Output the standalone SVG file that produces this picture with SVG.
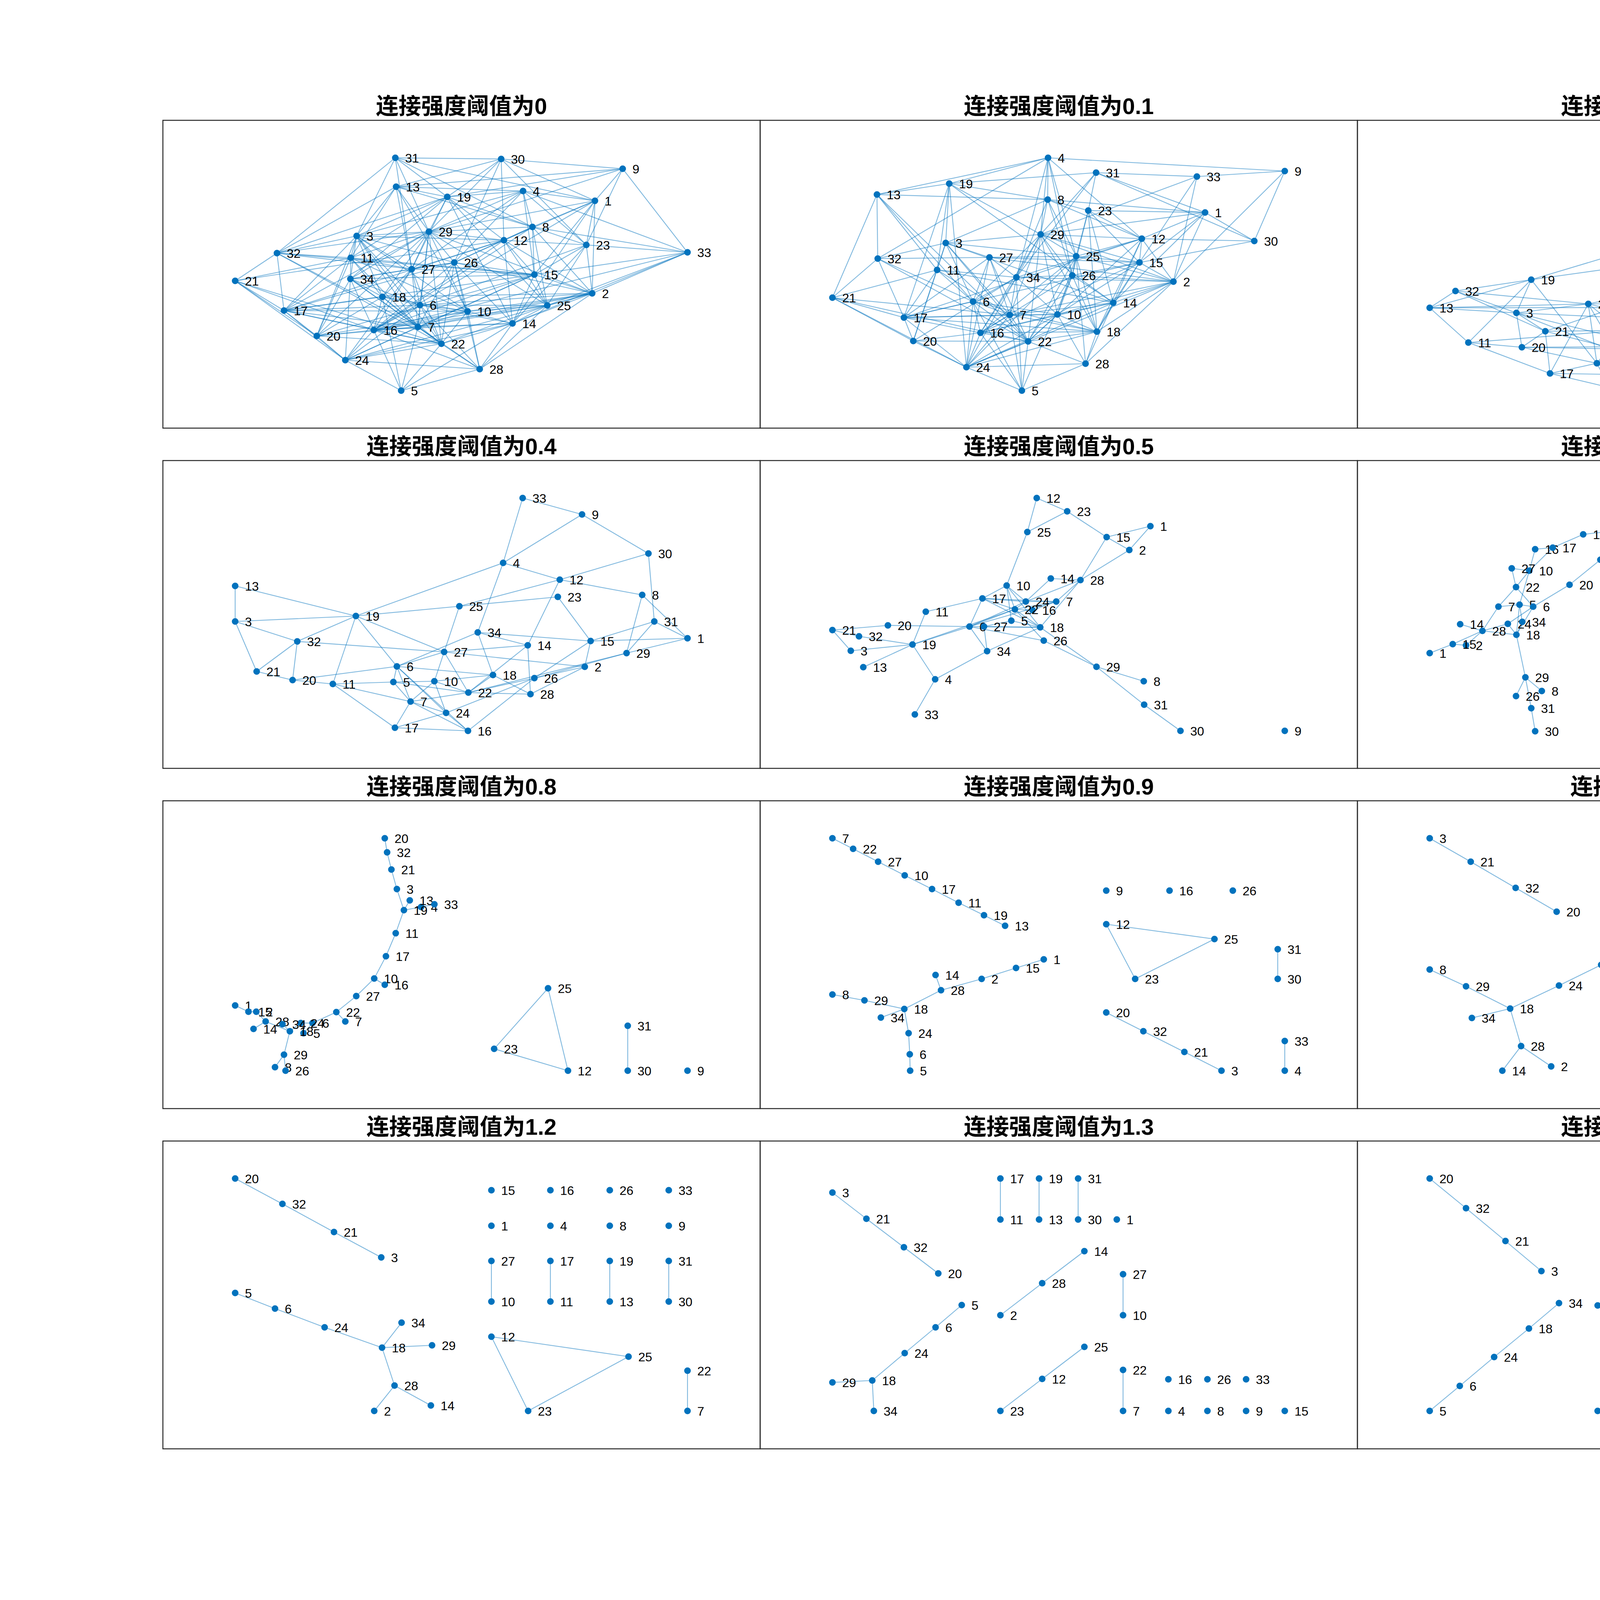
<svg xmlns="http://www.w3.org/2000/svg" width="6950" height="4125" viewBox="0 0 6950 4125">
<style>
.fr{fill:none;stroke:#262626;stroke-width:2.5}
.tt{font-family:"Liberation Sans","Noto Sans CJK SC",sans-serif;font-size:58px;font-weight:bold;text-anchor:middle;fill:#000}
.ed path{fill:none;stroke:#0072BD;stroke-opacity:0.5;stroke-width:2.2}
.nd circle{fill:#0072BD}
.nd text{font-family:"Liberation Sans",Arial,sans-serif;font-size:32px;fill:#000}
</style>
<rect width="6950" height="4125" fill="#fff"/>
<g id="titles">
<text class="tt" x="1181.5" y="292">连接强度阈值为0</text>
<text class="tt" x="2710.5" y="292">连接强度阈值为0.1</text>
<text class="tt" x="4239.5" y="292">连接强度阈值为0.2</text>
<text class="tt" x="5768.5" y="292">连接强度阈值为0.3</text>
<text class="tt" x="1181.5" y="1163">连接强度阈值为0.4</text>
<text class="tt" x="2710.5" y="1163">连接强度阈值为0.5</text>
<text class="tt" x="4239.5" y="1163">连接强度阈值为0.6</text>
<text class="tt" x="5768.5" y="1163">连接强度阈值为0.7</text>
<text class="tt" x="1181.5" y="2034">连接强度阈值为0.8</text>
<text class="tt" x="2710.5" y="2034">连接强度阈值为0.9</text>
<text class="tt" x="4239.5" y="2034">连接强度阈值为1</text>
<text class="tt" x="5768.5" y="2034">连接强度阈值为1.1</text>
<text class="tt" x="1181.5" y="2905">连接强度阈值为1.2</text>
<text class="tt" x="2710.5" y="2905">连接强度阈值为1.3</text>
<text class="tt" x="4239.5" y="2905">连接强度阈值为1.4</text>
<text class="tt" x="5768.5" y="2905">连接强度阈值为1.5</text>
</g>
<g id="frames">
<rect class="fr" x="417" y="308" width="1529" height="788"/><rect class="fr" x="1946" y="308" width="1529" height="788"/><rect class="fr" x="3475" y="308" width="1529" height="788"/><rect class="fr" x="5004" y="308" width="1529" height="788"/>
<rect class="fr" x="417" y="1179" width="1529" height="788"/><rect class="fr" x="1946" y="1179" width="1529" height="788"/><rect class="fr" x="3475" y="1179" width="1529" height="788"/><rect class="fr" x="5004" y="1179" width="1529" height="788"/>
<rect class="fr" x="417" y="2050" width="1529" height="788"/><rect class="fr" x="1946" y="2050" width="1529" height="788"/><rect class="fr" x="3475" y="2050" width="1529" height="788"/><rect class="fr" x="5004" y="2050" width="1529" height="788"/>
<rect class="fr" x="417" y="2921" width="1529" height="788"/><rect class="fr" x="1946" y="2921" width="1529" height="788"/><rect class="fr" x="3475" y="2921" width="1529" height="788"/><rect class="fr" x="5004" y="2921" width="1529" height="788"/>
</g>

<g id="panel-0" transform="translate(417 360)">
<g class="ed" id="p0-edges">
<path d="M595 44L866 47"/><path d="M595 44L292 288"/><path d="M595 44L496 244"/><path d="M595 44L728 144"/><path d="M595 44L681 233"/><path d="M595 44L1106 154"/><path d="M595 44L946 221"/><path d="M595 44L637 329"/>
<path d="M866 47L1177 72"/><path d="M866 47L597 118"/><path d="M866 47L728 144"/><path d="M866 47L681 233"/><path d="M866 47L873 255"/><path d="M866 47L1106 154"/><path d="M866 47L746 312"/><path d="M866 47L1084 267"/>
<path d="M1177 72L597 118"/><path d="M1177 72L728 144"/><path d="M1177 72L681 233"/><path d="M1177 72L1106 154"/><path d="M1177 72L1084 267"/><path d="M1177 72L1343 286"/>
<path d="M597 118L728 144"/><path d="M597 118L922 129"/><path d="M597 118L496 244"/><path d="M597 118L292 288"/><path d="M597 118L681 233"/><path d="M597 118L637 329"/><path d="M597 118L946 221"/><path d="M597 118L481 300"/><path d="M597 118L780 437"/>
<path d="M728 144L922 129"/><path d="M728 144L681 233"/><path d="M728 144L873 255"/><path d="M728 144L946 221"/><path d="M728 144L496 244"/><path d="M728 144L292 288"/><path d="M728 144L481 300"/><path d="M728 144L480 354"/><path d="M728 144L895 468"/><path d="M728 144L637 329"/><path d="M728 144L984 422"/>
<path d="M922 129L946 221"/><path d="M922 129L1106 154"/><path d="M922 129L1084 267"/><path d="M922 129L681 233"/><path d="M922 129L496 244"/><path d="M922 129L1343 286"/><path d="M922 129L746 312"/><path d="M922 129L951 343"/><path d="M922 129L637 329"/>
<path d="M1106 154L681 233"/><path d="M1106 154L946 221"/><path d="M1106 154L1084 267"/><path d="M1106 154L1099 391"/><path d="M1106 154L540 485"/><path d="M1106 154L895 468"/><path d="M1106 154L951 343"/><path d="M1106 154L873 255"/>
<path d="M946 221L681 233"/><path d="M946 221L1084 267"/><path d="M946 221L873 255"/><path d="M946 221L951 343"/><path d="M946 221L984 422"/><path d="M946 221L1343 286"/><path d="M946 221L1099 391"/><path d="M946 221L746 312"/><path d="M946 221L540 485"/>
<path d="M681 233L496 244"/><path d="M681 233L873 255"/><path d="M681 233L481 300"/><path d="M681 233L637 329"/><path d="M681 233L480 354"/><path d="M681 233L562 400"/><path d="M681 233L658 421"/><path d="M681 233L653 477"/><path d="M681 233L780 437"/><path d="M681 233L746 312"/><path d="M681 233L713 520"/><path d="M681 233L1099 391"/><path d="M681 233L984 422"/><path d="M681 233L310 435"/><path d="M681 233L394 500"/>
<path d="M496 244L292 288"/><path d="M496 244L481 300"/><path d="M496 244L480 354"/><path d="M496 244L637 329"/><path d="M496 244L746 312"/><path d="M496 244L562 400"/><path d="M496 244L658 421"/><path d="M496 244L653 477"/><path d="M496 244L780 437"/><path d="M496 244L310 435"/><path d="M496 244L394 500"/><path d="M496 244L873 255"/><path d="M496 244L713 520"/>
<path d="M873 255L1084 267"/><path d="M873 255L637 329"/><path d="M873 255L746 312"/><path d="M873 255L951 343"/><path d="M873 255L984 422"/><path d="M873 255L895 468"/><path d="M873 255L1099 391"/><path d="M873 255L310 435"/><path d="M873 255L540 485"/><path d="M873 255L185 359"/>
<path d="M1084 267L1343 286"/><path d="M1084 267L1099 391"/><path d="M1084 267L951 343"/><path d="M1084 267L984 422"/><path d="M1084 267L895 468"/><path d="M1084 267L658 421"/>
<path d="M1343 286L1099 391"/><path d="M1343 286L984 422"/><path d="M1343 286L951 343"/><path d="M1343 286L895 468"/><path d="M1343 286L540 485"/>
<path d="M292 288L185 359"/><path d="M292 288L310 435"/><path d="M292 288L481 300"/><path d="M292 288L681 233"/><path d="M292 288L637 329"/><path d="M292 288L951 343"/><path d="M292 288L653 477"/><path d="M292 288L713 520"/>
<path d="M481 300L185 359"/><path d="M481 300L637 329"/><path d="M481 300L951 343"/><path d="M481 300L480 354"/><path d="M481 300L562 400"/><path d="M481 300L310 435"/><path d="M481 300L394 500"/><path d="M481 300L780 437"/><path d="M481 300L653 477"/>
<path d="M637 329L746 312"/><path d="M637 329L480 354"/><path d="M637 329L951 343"/><path d="M637 329L540 485"/><path d="M637 329L467 562"/><path d="M637 329L653 477"/><path d="M637 329L658 421"/><path d="M637 329L562 400"/><path d="M637 329L713 520"/>
<path d="M746 312L951 343"/><path d="M746 312L780 437"/><path d="M746 312L895 468"/><path d="M746 312L1099 391"/><path d="M746 312L540 485"/><path d="M746 312L310 435"/><path d="M746 312L480 354"/><path d="M746 312L713 520"/><path d="M746 312L653 477"/><path d="M746 312L811 585"/>
<path d="M185 359L310 435"/><path d="M185 359L394 500"/><path d="M185 359L467 562"/><path d="M185 359L540 485"/><path d="M185 359L713 520"/>
<path d="M480 354L951 343"/><path d="M480 354L562 400"/><path d="M480 354L540 485"/><path d="M480 354L467 562"/><path d="M480 354L653 477"/><path d="M480 354L713 520"/><path d="M480 354L394 500"/><path d="M480 354L658 421"/>
<path d="M951 343L1099 391"/><path d="M951 343L984 422"/><path d="M951 343L895 468"/><path d="M951 343L310 435"/><path d="M951 343L540 485"/><path d="M951 343L394 500"/><path d="M951 343L467 562"/><path d="M951 343L653 477"/>
<path d="M1099 391L984 422"/><path d="M1099 391L895 468"/><path d="M1099 391L780 437"/><path d="M1099 391L658 421"/><path d="M1099 391L562 400"/><path d="M1099 391L540 485"/><path d="M1099 391L653 477"/><path d="M1099 391L467 562"/><path d="M1099 391L811 585"/>
<path d="M562 400L310 435"/><path d="M562 400L658 421"/><path d="M562 400L653 477"/><path d="M562 400L540 485"/><path d="M562 400L713 520"/><path d="M562 400L394 500"/><path d="M562 400L780 437"/><path d="M562 400L610 640"/>
<path d="M658 421L310 435"/><path d="M658 421L780 437"/><path d="M658 421L653 477"/><path d="M658 421L540 485"/><path d="M658 421L713 520"/><path d="M658 421L895 468"/><path d="M658 421L984 422"/><path d="M658 421L467 562"/><path d="M658 421L811 585"/>
<path d="M310 435L394 500"/><path d="M310 435L540 485"/><path d="M310 435L467 562"/><path d="M310 435L780 437"/><path d="M310 435L653 477"/><path d="M310 435L713 520"/>
<path d="M780 437L984 422"/><path d="M780 437L895 468"/><path d="M780 437L540 485"/><path d="M780 437L653 477"/><path d="M780 437L713 520"/><path d="M780 437L394 500"/><path d="M780 437L811 585"/>
<path d="M984 422L895 468"/><path d="M984 422L540 485"/><path d="M984 422L653 477"/><path d="M984 422L713 520"/><path d="M984 422L811 585"/>
<path d="M895 468L540 485"/><path d="M895 468L653 477"/><path d="M895 468L713 520"/><path d="M895 468L467 562"/><path d="M895 468L811 585"/><path d="M895 468L610 640"/>
<path d="M540 485L394 500"/><path d="M540 485L653 477"/><path d="M540 485L713 520"/><path d="M540 485L467 562"/><path d="M540 485L610 640"/><path d="M540 485L811 585"/>
<path d="M653 477L394 500"/><path d="M653 477L713 520"/><path d="M653 477L467 562"/><path d="M653 477L610 640"/><path d="M653 477L811 585"/>
<path d="M394 500L467 562"/><path d="M394 500L713 520"/><path d="M713 520L467 562"/><path d="M713 520L811 585"/><path d="M713 520L610 640"/><path d="M467 562L811 585"/><path d="M467 562L610 640"/><path d="M811 585L610 640"/>
</g>
<g class="nd">
<g id="p0-n1" transform="translate(1106 154)"><circle r="8.5"/><text x="25" y="12">1</text></g>
<g id="p0-n2" transform="translate(1099 391)"><circle r="8.5"/><text x="25" y="12">2</text></g>
<g id="p0-n3" transform="translate(496 244)"><circle r="8.5"/><text x="25" y="12">3</text></g>
<g id="p0-n4" transform="translate(922 129)"><circle r="8.5"/><text x="25" y="12">4</text></g>
<g id="p0-n5" transform="translate(610 640)"><circle r="8.5"/><text x="25" y="12">5</text></g>
<g id="p0-n6" transform="translate(658 421)"><circle r="8.5"/><text x="25" y="12">6</text></g>
<g id="p0-n7" transform="translate(653 477)"><circle r="8.5"/><text x="25" y="12">7</text></g>
<g id="p0-n8" transform="translate(946 221)"><circle r="8.5"/><text x="25" y="12">8</text></g>
<g id="p0-n9" transform="translate(1177 72)"><circle r="8.5"/><text x="25" y="12">9</text></g>
<g id="p0-n10" transform="translate(780 437)"><circle r="8.5"/><text x="25" y="12">10</text></g>
<g id="p0-n11" transform="translate(481 300)"><circle r="8.5"/><text x="25" y="12">11</text></g>
<g id="p0-n12" transform="translate(873 255)"><circle r="8.5"/><text x="25" y="12">12</text></g>
<g id="p0-n13" transform="translate(597 118)"><circle r="8.5"/><text x="25" y="12">13</text></g>
<g id="p0-n14" transform="translate(895 468)"><circle r="8.5"/><text x="25" y="12">14</text></g>
<g id="p0-n15" transform="translate(951 343)"><circle r="8.5"/><text x="25" y="12">15</text></g>
<g id="p0-n16" transform="translate(540 485)"><circle r="8.5"/><text x="25" y="12">16</text></g>
<g id="p0-n17" transform="translate(310 435)"><circle r="8.5"/><text x="25" y="12">17</text></g>
<g id="p0-n18" transform="translate(562 400)"><circle r="8.5"/><text x="25" y="12">18</text></g>
<g id="p0-n19" transform="translate(728 144)"><circle r="8.5"/><text x="25" y="12">19</text></g>
<g id="p0-n20" transform="translate(394 500)"><circle r="8.5"/><text x="25" y="12">20</text></g>
<g id="p0-n21" transform="translate(185 359)"><circle r="8.5"/><text x="25" y="12">21</text></g>
<g id="p0-n22" transform="translate(713 520)"><circle r="8.5"/><text x="25" y="12">22</text></g>
<g id="p0-n23" transform="translate(1084 267)"><circle r="8.5"/><text x="25" y="12">23</text></g>
<g id="p0-n24" transform="translate(467 562)"><circle r="8.5"/><text x="25" y="12">24</text></g>
<g id="p0-n25" transform="translate(984 422)"><circle r="8.5"/><text x="25" y="12">25</text></g>
<g id="p0-n26" transform="translate(746 312)"><circle r="8.5"/><text x="25" y="12">26</text></g>
<g id="p0-n27" transform="translate(637 329)"><circle r="8.5"/><text x="25" y="12">27</text></g>
<g id="p0-n28" transform="translate(811 585)"><circle r="8.5"/><text x="25" y="12">28</text></g>
<g id="p0-n29" transform="translate(681 233)"><circle r="8.5"/><text x="25" y="12">29</text></g>
<g id="p0-n30" transform="translate(866 47)"><circle r="8.5"/><text x="25" y="12">30</text></g>
<g id="p0-n31" transform="translate(595 44)"><circle r="8.5"/><text x="25" y="12">31</text></g>
<g id="p0-n32" transform="translate(292 288)"><circle r="8.5"/><text x="25" y="12">32</text></g>
<g id="p0-n33" transform="translate(1343 286)"><circle r="8.5"/><text x="25" y="12">33</text></g>
<g id="p0-n34" transform="translate(480 354)"><circle r="8.5"/><text x="25" y="12">34</text></g>
</g>
</g>

<g id="panel-0.1" transform="translate(1946 360)">
<g class="ed" id="p01-edges">
<path d="M737 44L484 110"/><path d="M737 44L299 138"/><path d="M737 44L1343 78"/><path d="M737 44L736 151"/><path d="M737 44L718 240"/><path d="M737 44L656 350"/><path d="M737 44L809 296"/><path d="M737 44L799 345"/><path d="M737 44L977 251"/><path d="M737 44L301 302"/>
<path d="M860 82L484 110"/><path d="M860 82L840 179"/><path d="M860 82L718 240"/><path d="M860 82L1139 184"/><path d="M860 82L1265 257"/><path d="M860 82L656 350"/>
<path d="M1118 92L1343 78"/><path d="M1118 92L1058 361"/><path d="M1118 92L971 312"/><path d="M1118 92L718 240"/><path d="M1118 92L860 82"/><path d="M1343 78L1265 257"/><path d="M1343 78L1058 361"/>
<path d="M484 110L299 138"/><path d="M484 110L736 151"/><path d="M484 110L718 240"/><path d="M484 110L475 262"/><path d="M484 110L453 331"/><path d="M484 110L368 453"/><path d="M484 110L528 580"/><path d="M484 110L904 415"/>
<path d="M299 138L301 302"/><path d="M299 138L185 402"/><path d="M299 138L736 151"/><path d="M299 138L545 412"/><path d="M299 138L686 514"/><path d="M299 138L453 331"/>
<path d="M736 151L840 179"/><path d="M736 151L1139 184"/><path d="M736 151L718 240"/><path d="M736 151L977 251"/><path d="M736 151L656 350"/><path d="M736 151L809 296"/><path d="M736 151L799 345"/><path d="M736 151L475 262"/>
<path d="M840 179L1139 184"/><path d="M840 179L977 251"/><path d="M840 179L971 312"/><path d="M840 179L809 296"/><path d="M840 179L799 345"/><path d="M840 179L862 489"/><path d="M840 179L904 415"/>
<path d="M1139 184L1265 257"/><path d="M1139 184L977 251"/><path d="M1139 184L971 312"/><path d="M1139 184L1058 361"/><path d="M1139 184L718 240"/><path d="M1139 184L904 415"/>
<path d="M718 240L475 262"/><path d="M718 240L977 251"/><path d="M718 240L971 312"/><path d="M718 240L1058 361"/><path d="M718 240L809 296"/><path d="M718 240L799 345"/><path d="M718 240L656 350"/><path d="M718 240L639 446"/><path d="M718 240L545 412"/><path d="M718 240L761 445"/><path d="M718 240L686 514"/><path d="M718 240L862 489"/><path d="M718 240L564 492"/>
<path d="M977 251L1265 257"/><path d="M977 251L971 312"/><path d="M977 251L809 296"/><path d="M977 251L904 415"/><path d="M977 251L1058 361"/><path d="M977 251L656 350"/><path d="M977 251L686 514"/><path d="M977 251L368 453"/><path d="M977 251L862 489"/>
<path d="M475 262L587 299"/><path d="M475 262L809 296"/><path d="M475 262L301 302"/><path d="M475 262L453 331"/><path d="M475 262L545 412"/><path d="M475 262L639 446"/><path d="M475 262L686 514"/><path d="M475 262L904 415"/><path d="M475 262L392 513"/>
<path d="M301 302L587 299"/><path d="M301 302L185 402"/><path d="M301 302L368 453"/><path d="M301 302L545 412"/><path d="M301 302L686 514"/>
<path d="M587 299L809 296"/><path d="M587 299L971 312"/><path d="M587 299L656 350"/><path d="M587 299L545 412"/><path d="M587 299L639 446"/><path d="M587 299L368 453"/><path d="M587 299L686 514"/><path d="M587 299L528 580"/><path d="M587 299L1058 361"/>
<path d="M809 296L971 312"/><path d="M809 296L799 345"/><path d="M809 296L761 445"/><path d="M809 296L1058 361"/><path d="M809 296L686 514"/><path d="M809 296L862 489"/><path d="M809 296L833 571"/><path d="M809 296L528 580"/><path d="M809 296L564 492"/>
<path d="M971 312L1058 361"/><path d="M971 312L1265 257"/><path d="M971 312L799 345"/><path d="M971 312L904 415"/><path d="M971 312L761 445"/><path d="M971 312L862 489"/><path d="M971 312L368 453"/><path d="M971 312L564 492"/>
<path d="M453 331L656 350"/><path d="M453 331L368 453"/><path d="M453 331L392 513"/><path d="M453 331L545 412"/><path d="M453 331L904 415"/><path d="M453 331L185 402"/><path d="M453 331L639 446"/>
<path d="M656 350L799 345"/><path d="M656 350L545 412"/><path d="M656 350L639 446"/><path d="M656 350L761 445"/><path d="M656 350L1058 361"/><path d="M656 350L564 492"/><path d="M656 350L528 580"/><path d="M656 350L670 640"/><path d="M656 350L392 513"/>
<path d="M799 345L1058 361"/><path d="M799 345L904 415"/><path d="M799 345L761 445"/><path d="M799 345L862 489"/><path d="M799 345L686 514"/><path d="M799 345L564 492"/><path d="M799 345L670 640"/>
<path d="M1058 361L904 415"/><path d="M1058 361L862 489"/><path d="M1058 361L833 571"/><path d="M1058 361L761 445"/><path d="M1058 361L528 580"/><path d="M1058 361L639 446"/>
<path d="M185 402L368 453"/><path d="M185 402L392 513"/><path d="M185 402L528 580"/><path d="M185 402L639 446"/><path d="M185 402L686 514"/>
<path d="M545 412L639 446"/><path d="M545 412L564 492"/><path d="M545 412L368 453"/><path d="M545 412L686 514"/><path d="M545 412L528 580"/><path d="M545 412L670 640"/><path d="M545 412L761 445"/><path d="M545 412L862 489"/>
<path d="M904 415L761 445"/><path d="M904 415L639 446"/><path d="M904 415L862 489"/><path d="M904 415L833 571"/><path d="M904 415L564 492"/><path d="M904 415L528 580"/>
<path d="M368 453L639 446"/><path d="M368 453L564 492"/><path d="M368 453L392 513"/><path d="M368 453L528 580"/><path d="M368 453L761 445"/><path d="M368 453L862 489"/>
<path d="M639 446L761 445"/><path d="M639 446L564 492"/><path d="M639 446L686 514"/><path d="M639 446L670 640"/><path d="M639 446L862 489"/><path d="M639 446L528 580"/>
<path d="M761 445L564 492"/><path d="M761 445L686 514"/><path d="M761 445L862 489"/><path d="M761 445L833 571"/><path d="M761 445L528 580"/>
<path d="M564 492L392 513"/><path d="M564 492L686 514"/><path d="M564 492L670 640"/><path d="M564 492L528 580"/><path d="M564 492L862 489"/>
<path d="M862 489L833 571"/><path d="M862 489L686 514"/><path d="M862 489L528 580"/><path d="M392 513L528 580"/><path d="M392 513L686 514"/><path d="M686 514L528 580"/><path d="M686 514L670 640"/><path d="M686 514L833 571"/><path d="M528 580L833 571"/><path d="M528 580L670 640"/><path d="M833 571L670 640"/>
</g>
<g class="nd">
<g id="p01-n1" transform="translate(1139 184)"><circle r="8.5"/><text x="25" y="12">1</text></g>
<g id="p01-n2" transform="translate(1058 361)"><circle r="8.5"/><text x="25" y="12">2</text></g>
<g id="p01-n3" transform="translate(475 262)"><circle r="8.5"/><text x="25" y="12">3</text></g>
<g id="p01-n4" transform="translate(737 44)"><circle r="8.5"/><text x="25" y="12">4</text></g>
<g id="p01-n5" transform="translate(670 640)"><circle r="8.5"/><text x="25" y="12">5</text></g>
<g id="p01-n6" transform="translate(545 412)"><circle r="8.5"/><text x="25" y="12">6</text></g>
<g id="p01-n7" transform="translate(639 446)"><circle r="8.5"/><text x="25" y="12">7</text></g>
<g id="p01-n8" transform="translate(736 151)"><circle r="8.5"/><text x="25" y="12">8</text></g>
<g id="p01-n9" transform="translate(1343 78)"><circle r="8.5"/><text x="25" y="12">9</text></g>
<g id="p01-n10" transform="translate(761 445)"><circle r="8.5"/><text x="25" y="12">10</text></g>
<g id="p01-n11" transform="translate(453 331)"><circle r="8.5"/><text x="25" y="12">11</text></g>
<g id="p01-n12" transform="translate(977 251)"><circle r="8.5"/><text x="25" y="12">12</text></g>
<g id="p01-n13" transform="translate(299 138)"><circle r="8.5"/><text x="25" y="12">13</text></g>
<g id="p01-n14" transform="translate(904 415)"><circle r="8.5"/><text x="25" y="12">14</text></g>
<g id="p01-n15" transform="translate(971 312)"><circle r="8.5"/><text x="25" y="12">15</text></g>
<g id="p01-n16" transform="translate(564 492)"><circle r="8.5"/><text x="25" y="12">16</text></g>
<g id="p01-n17" transform="translate(368 453)"><circle r="8.5"/><text x="25" y="12">17</text></g>
<g id="p01-n18" transform="translate(862 489)"><circle r="8.5"/><text x="25" y="12">18</text></g>
<g id="p01-n19" transform="translate(484 110)"><circle r="8.5"/><text x="25" y="12">19</text></g>
<g id="p01-n20" transform="translate(392 513)"><circle r="8.5"/><text x="25" y="12">20</text></g>
<g id="p01-n21" transform="translate(185 402)"><circle r="8.5"/><text x="25" y="12">21</text></g>
<g id="p01-n22" transform="translate(686 514)"><circle r="8.5"/><text x="25" y="12">22</text></g>
<g id="p01-n23" transform="translate(840 179)"><circle r="8.5"/><text x="25" y="12">23</text></g>
<g id="p01-n24" transform="translate(528 580)"><circle r="8.5"/><text x="25" y="12">24</text></g>
<g id="p01-n25" transform="translate(809 296)"><circle r="8.5"/><text x="25" y="12">25</text></g>
<g id="p01-n26" transform="translate(799 345)"><circle r="8.5"/><text x="25" y="12">26</text></g>
<g id="p01-n27" transform="translate(587 299)"><circle r="8.5"/><text x="25" y="12">27</text></g>
<g id="p01-n28" transform="translate(833 571)"><circle r="8.5"/><text x="25" y="12">28</text></g>
<g id="p01-n29" transform="translate(718 240)"><circle r="8.5"/><text x="25" y="12">29</text></g>
<g id="p01-n30" transform="translate(1265 257)"><circle r="8.5"/><text x="25" y="12">30</text></g>
<g id="p01-n31" transform="translate(860 82)"><circle r="8.5"/><text x="25" y="12">31</text></g>
<g id="p01-n32" transform="translate(301 302)"><circle r="8.5"/><text x="25" y="12">32</text></g>
<g id="p01-n33" transform="translate(1118 92)"><circle r="8.5"/><text x="25" y="12">33</text></g>
<g id="p01-n34" transform="translate(656 350)"><circle r="8.5"/><text x="25" y="12">34</text></g>
</g>
</g>

<g id="panel-0.2" transform="translate(3475 360)">
<g class="ed" id="p02-edges">
<path d="M1119 44L869 229"/><path d="M1119 44L1087 158"/><path d="M1119 44L1300 146"/><path d="M1087 158L869 229"/><path d="M1087 158L1009 338"/><path d="M1300 146L1215 280"/><path d="M1300 146L1009 338"/>
<path d="M1215 280L1343 386"/><path d="M1215 280L1009 338"/><path d="M1215 280L851 363"/><path d="M1215 280L1024 414"/>
<path d="M869 229L445 356"/><path d="M869 229L851 363"/><path d="M869 229L1144 364"/><path d="M869 229L757 457"/>
<path d="M739 315L445 356"/><path d="M739 315L1009 338"/><path d="M739 315L677 486"/><path d="M739 315L922 427"/>
<path d="M1009 338L851 363"/><path d="M1009 338L1024 414"/><path d="M1009 338L1036 470"/><path d="M1009 338L922 427"/><path d="M1009 338L856 468"/><path d="M1009 338L658 533"/>
<path d="M445 356L251 385"/><path d="M445 356L185 428"/><path d="M445 356L407 441"/><path d="M445 356L284 517"/><path d="M445 356L613 570"/>
<path d="M851 363L1144 364"/><path d="M851 363L591 418"/><path d="M851 363L757 457"/><path d="M851 363L856 468"/><path d="M851 363L754 527"/><path d="M851 363L481 488"/>
<path d="M1144 364L1343 386"/><path d="M1144 364L1024 414"/><path d="M1144 364L1136 520"/><path d="M1144 364L922 427"/><path d="M1343 386L1024 414"/><path d="M1343 386L1136 520"/>
<path d="M251 385L185 428"/><path d="M251 385L591 418"/><path d="M251 385L407 441"/><path d="M251 385L481 488"/>
<path d="M185 428L591 418"/><path d="M185 428L407 441"/><path d="M185 428L284 517"/><path d="M185 428L922 427"/>
<path d="M591 418L757 457"/><path d="M591 418L677 486"/><path d="M591 418L493 596"/><path d="M591 418L658 533"/><path d="M591 418L613 570"/><path d="M591 418L407 441"/><path d="M591 418L1024 414"/>
<path d="M922 427L1024 414"/><path d="M922 427L856 468"/><path d="M922 427L757 457"/><path d="M922 427L871 554"/><path d="M922 427L754 527"/><path d="M922 427L658 533"/>
<path d="M1024 414L1036 470"/><path d="M1024 414L871 554"/><path d="M1024 414L914 595"/><path d="M1024 414L677 486"/>
<path d="M407 441L481 488"/><path d="M407 441L421 529"/><path d="M407 441L757 457"/><path d="M407 441L754 527"/><path d="M407 441L816 601"/>
<path d="M757 457L677 486"/><path d="M757 457L658 533"/><path d="M757 457L856 468"/><path d="M757 457L713 640"/><path d="M757 457L816 601"/><path d="M757 457L645 632"/>
<path d="M856 468L754 527"/><path d="M856 468L871 554"/><path d="M856 468L816 601"/><path d="M856 468L1136 520"/>
<path d="M481 488L677 486"/><path d="M481 488L421 529"/><path d="M481 488L493 596"/><path d="M481 488L658 533"/>
<path d="M677 486L658 533"/><path d="M677 486L754 527"/><path d="M677 486L613 570"/><path d="M677 486L713 640"/><path d="M677 486L1036 470"/>
<path d="M284 517L421 529"/><path d="M284 517L677 486"/><path d="M284 517L493 596"/>
<path d="M421 529L658 533"/><path d="M421 529L613 570"/><path d="M421 529L754 527"/>
<path d="M658 533L754 527"/><path d="M658 533L613 570"/><path d="M658 533L713 640"/><path d="M658 533L645 632"/><path d="M658 533L871 554"/><path d="M658 533L816 601"/><path d="M658 533L914 595"/>
<path d="M754 527L871 554"/><path d="M754 527L816 601"/><path d="M754 527L713 640"/><path d="M754 527L1136 520"/><path d="M754 527L914 595"/><path d="M754 527L613 570"/>
<path d="M1136 520L871 554"/><path d="M1136 520L914 595"/><path d="M1136 520L816 601"/><path d="M1136 520L1036 470"/>
<path d="M871 554L816 601"/><path d="M871 554L914 595"/><path d="M871 554L613 570"/><path d="M871 554L713 640"/>
<path d="M613 570L493 596"/><path d="M613 570L645 632"/><path d="M613 570L816 601"/><path d="M613 570L914 595"/><path d="M613 570L713 640"/>
<path d="M493 596L645 632"/><path d="M493 596L816 601"/><path d="M816 601L914 595"/><path d="M816 601L713 640"/><path d="M816 601L645 632"/><path d="M914 595L713 640"/><path d="M645 632L713 640"/><path d="M1036 470L914 595"/>
</g>
<g class="nd">
<g id="p02-n1" transform="translate(1343 386)"><circle r="8.5"/><text x="25" y="12">1</text></g>
<g id="p02-n2" transform="translate(1024 414)"><circle r="8.5"/><text x="25" y="12">2</text></g>
<g id="p02-n3" transform="translate(407 441)"><circle r="8.5"/><text x="25" y="12">3</text></g>
<g id="p02-n4" transform="translate(869 229)"><circle r="8.5"/><text x="25" y="12">4</text></g>
<g id="p02-n5" transform="translate(645 632)"><circle r="8.5"/><text x="25" y="12">5</text></g>
<g id="p02-n6" transform="translate(613 570)"><circle r="8.5"/><text x="25" y="12">6</text></g>
<g id="p02-n7" transform="translate(871 554)"><circle r="8.5"/><text x="25" y="12">7</text></g>
<g id="p02-n8" transform="translate(1144 364)"><circle r="8.5"/><text x="25" y="12">8</text></g>
<g id="p02-n9" transform="translate(1119 44)"><circle r="8.5"/><text x="25" y="12">9</text></g>
<g id="p02-n10" transform="translate(677 486)"><circle r="8.5"/><text x="25" y="12">10</text></g>
<g id="p02-n11" transform="translate(284 517)"><circle r="8.5"/><text x="25" y="12">11</text></g>
<g id="p02-n12" transform="translate(1009 338)"><circle r="8.5"/><text x="25" y="12">12</text></g>
<g id="p02-n13" transform="translate(185 428)"><circle r="8.5"/><text x="25" y="12">13</text></g>
<g id="p02-n14" transform="translate(856 468)"><circle r="8.5"/><text x="25" y="12">14</text></g>
<g id="p02-n15" transform="translate(1136 520)"><circle r="8.5"/><text x="25" y="12">15</text></g>
<g id="p02-n16" transform="translate(816 601)"><circle r="8.5"/><text x="25" y="12">16</text></g>
<g id="p02-n17" transform="translate(493 596)"><circle r="8.5"/><text x="25" y="12">17</text></g>
<g id="p02-n18" transform="translate(754 527)"><circle r="8.5"/><text x="25" y="12">18</text></g>
<g id="p02-n19" transform="translate(445 356)"><circle r="8.5"/><text x="25" y="12">19</text></g>
<g id="p02-n20" transform="translate(421 529)"><circle r="8.5"/><text x="25" y="12">20</text></g>
<g id="p02-n21" transform="translate(481 488)"><circle r="8.5"/><text x="25" y="12">21</text></g>
<g id="p02-n22" transform="translate(658 533)"><circle r="8.5"/><text x="25" y="12">22</text></g>
<g id="p02-n23" transform="translate(1036 470)"><circle r="8.5"/><text x="25" y="12">23</text></g>
<g id="p02-n24" transform="translate(713 640)"><circle r="8.5"/><text x="25" y="12">24</text></g>
<g id="p02-n25" transform="translate(739 315)"><circle r="8.5"/><text x="25" y="12">25</text></g>
<g id="p02-n26" transform="translate(922 427)"><circle r="8.5"/><text x="25" y="12">26</text></g>
<g id="p02-n27" transform="translate(591 418)"><circle r="8.5"/><text x="25" y="12">27</text></g>
<g id="p02-n28" transform="translate(914 595)"><circle r="8.5"/><text x="25" y="12">28</text></g>
<g id="p02-n29" transform="translate(851 363)"><circle r="8.5"/><text x="25" y="12">29</text></g>
<g id="p02-n30" transform="translate(1300 146)"><circle r="8.5"/><text x="25" y="12">30</text></g>
<g id="p02-n31" transform="translate(1215 280)"><circle r="8.5"/><text x="25" y="12">31</text></g>
<g id="p02-n32" transform="translate(251 385)"><circle r="8.5"/><text x="25" y="12">32</text></g>
<g id="p02-n33" transform="translate(1087 158)"><circle r="8.5"/><text x="25" y="12">33</text></g>
<g id="p02-n34" transform="translate(757 457)"><circle r="8.5"/><text x="25" y="12">34</text></g>
</g>
</g>

<g id="panel-0.3" transform="translate(5004 360)">
<g class="ed" id="p03-edges">
<path d="M847 44L796 224"/><path d="M847 44L1032 84"/><path d="M1032 84L796 224"/><path d="M1032 84L1258 178"/><path d="M1258 178L1134 291"/><path d="M1258 178L1171 343"/>
<path d="M796 224L486 371"/><path d="M796 224L691 414"/><path d="M796 224L880 332"/><path d="M796 224L1025 331"/>
<path d="M1134 291L880 332"/><path d="M1134 291L1171 343"/><path d="M1134 291L861 487"/>
<path d="M880 332L1025 331"/><path d="M880 332L1171 343"/><path d="M880 332L944 391"/><path d="M880 332L829 449"/><path d="M880 332L691 414"/><path d="M880 332L634 466"/>
<path d="M1025 331L1171 343"/><path d="M1025 331L1216 407"/><path d="M1025 331L1092 460"/><path d="M1025 331L829 449"/>
<path d="M1171 343L1216 407"/><path d="M1171 343L1343 404"/><path d="M1171 343L829 449"/><path d="M1171 343L927 517"/><path d="M944 391L1171 343"/>
<path d="M486 371L245 332"/><path d="M486 371L322 420"/><path d="M486 371L185 449"/><path d="M486 371L529 447"/><path d="M486 371L471 496"/><path d="M486 371L381 545"/><path d="M486 371L1216 407"/>
<path d="M1216 407L1343 404"/><path d="M1216 407L1092 460"/><path d="M1216 407L927 517"/><path d="M1343 404L1092 460"/><path d="M1092 460L927 517"/>
<path d="M322 420L691 414"/><path d="M322 420L529 447"/><path d="M322 420L185 449"/><path d="M322 420L228 576"/><path d="M245 332L322 420"/><path d="M245 332L529 447"/>
<path d="M185 449L829 449"/><path d="M185 449L228 576"/><path d="M185 449L278 521"/>
<path d="M691 414L529 447"/><path d="M691 414L634 466"/><path d="M691 414L1092 460"/><path d="M691 414L861 487"/><path d="M691 414L597 539"/><path d="M691 414L512 556"/>
<path d="M529 447L634 466"/><path d="M529 447L597 539"/><path d="M529 447L622 599"/><path d="M529 447L278 521"/>
<path d="M829 449L1092 460"/><path d="M829 449L698 527"/><path d="M829 449L739 608"/><path d="M829 449L597 539"/>
<path d="M634 466L861 487"/><path d="M634 466L927 517"/><path d="M634 466L698 527"/><path d="M634 466L652 571"/><path d="M634 466L471 496"/><path d="M634 466L866 571"/>
<path d="M861 487L927 517"/><path d="M861 487L866 571"/><path d="M861 487L652 571"/><path d="M1092 460L622 599"/><path d="M1092 460L652 571"/>
<path d="M471 496L278 521"/><path d="M471 496L512 556"/><path d="M471 496L597 539"/><path d="M471 496L652 571"/><path d="M471 496L622 599"/>
<path d="M927 517L698 527"/><path d="M927 517L597 539"/><path d="M927 517L866 571"/><path d="M927 517L739 608"/>
<path d="M278 521L381 545"/><path d="M278 521L597 539"/><path d="M278 521L698 527"/><path d="M698 527L597 539"/><path d="M698 527L739 608"/>
<path d="M381 545L478 640"/><path d="M381 545L597 539"/>
<path d="M597 539L512 556"/><path d="M597 539L652 571"/><path d="M597 539L622 599"/><path d="M597 539L739 608"/>
<path d="M512 556L652 571"/><path d="M512 556L622 599"/><path d="M512 556L739 608"/><path d="M652 571L622 599"/><path d="M652 571L739 608"/><path d="M652 571L866 571"/>
<path d="M228 576L478 640"/><path d="M228 576L739 608"/><path d="M622 599L739 608"/><path d="M622 599L478 640"/><path d="M478 640L739 608"/><path d="M866 571L739 608"/>
</g>
<g class="nd">
<g id="p03-n1" transform="translate(1216 407)"><circle r="8.5"/><text x="25" y="12">1</text></g>
<g id="p03-n2" transform="translate(927 517)"><circle r="8.5"/><text x="25" y="12">2</text></g>
<g id="p03-n3" transform="translate(322 420)"><circle r="8.5"/><text x="25" y="12">3</text></g>
<g id="p03-n4" transform="translate(796 224)"><circle r="8.5"/><text x="25" y="12">4</text></g>
<g id="p03-n5" transform="translate(512 556)"><circle r="8.5"/><text x="25" y="12">5</text></g>
<g id="p03-n6" transform="translate(471 496)"><circle r="8.5"/><text x="25" y="12">6</text></g>
<g id="p03-n7" transform="translate(622 599)"><circle r="8.5"/><text x="25" y="12">7</text></g>
<g id="p03-n8" transform="translate(1025 331)"><circle r="8.5"/><text x="25" y="12">8</text></g>
<g id="p03-n9" transform="translate(1032 84)"><circle r="8.5"/><text x="25" y="12">9</text></g>
<g id="p03-n10" transform="translate(698 527)"><circle r="8.5"/><text x="25" y="12">10</text></g>
<g id="p03-n11" transform="translate(381 545)"><circle r="8.5"/><text x="25" y="12">11</text></g>
<g id="p03-n12" transform="translate(1171 343)"><circle r="8.5"/><text x="25" y="12">12</text></g>
<g id="p03-n13" transform="translate(245 332)"><circle r="8.5"/><text x="25" y="12">13</text></g>
<g id="p03-n14" transform="translate(861 487)"><circle r="8.5"/><text x="25" y="12">14</text></g>
<g id="p03-n15" transform="translate(1092 460)"><circle r="8.5"/><text x="25" y="12">15</text></g>
<g id="p03-n16" transform="translate(739 608)"><circle r="8.5"/><text x="25" y="12">16</text></g>
<g id="p03-n17" transform="translate(478 640)"><circle r="8.5"/><text x="25" y="12">17</text></g>
<g id="p03-n18" transform="translate(634 466)"><circle r="8.5"/><text x="25" y="12">18</text></g>
<g id="p03-n19" transform="translate(486 371)"><circle r="8.5"/><text x="25" y="12">19</text></g>
<g id="p03-n20" transform="translate(278 521)"><circle r="8.5"/><text x="25" y="12">20</text></g>
<g id="p03-n21" transform="translate(228 576)"><circle r="8.5"/><text x="25" y="12">21</text></g>
<g id="p03-n22" transform="translate(597 539)"><circle r="8.5"/><text x="25" y="12">22</text></g>
<g id="p03-n23" transform="translate(1343 404)"><circle r="8.5"/><text x="25" y="12">23</text></g>
<g id="p03-n24" transform="translate(652 571)"><circle r="8.5"/><text x="25" y="12">24</text></g>
<g id="p03-n25" transform="translate(944 391)"><circle r="8.5"/><text x="25" y="12">25</text></g>
<g id="p03-n26" transform="translate(829 449)"><circle r="8.5"/><text x="25" y="12">26</text></g>
<g id="p03-n27" transform="translate(529 447)"><circle r="8.5"/><text x="25" y="12">27</text></g>
<g id="p03-n28" transform="translate(866 571)"><circle r="8.5"/><text x="25" y="12">28</text></g>
<g id="p03-n29" transform="translate(880 332)"><circle r="8.5"/><text x="25" y="12">29</text></g>
<g id="p03-n30" transform="translate(1258 178)"><circle r="8.5"/><text x="25" y="12">30</text></g>
<g id="p03-n31" transform="translate(1134 291)"><circle r="8.5"/><text x="25" y="12">31</text></g>
<g id="p03-n32" transform="translate(185 449)"><circle r="8.5"/><text x="25" y="12">32</text></g>
<g id="p03-n33" transform="translate(847 44)"><circle r="8.5"/><text x="25" y="12">33</text></g>
<g id="p03-n34" transform="translate(691 414)"><circle r="8.5"/><text x="25" y="12">34</text></g>
</g>
</g>

<g id="panel-0.4" transform="translate(417 360)">
<g class="ed" id="p04-edges">
<path d="M921 915L871 1081"/><path d="M921 915L1073 957"/><path d="M1073 957L871 1081"/><path d="M1073 957L1243 1057"/><path d="M1243 1057L1016 1124"/><path d="M1243 1057L1258 1231"/>
<path d="M871 1081L1016 1124"/><path d="M871 1081L494 1217"/><path d="M871 1081L806 1259"/><path d="M1016 1124L1227 1163"/><path d="M1016 1124L759 1192"/><path d="M1016 1124L934 1292"/>
<path d="M494 1217L759 1192"/><path d="M759 1192L1011 1168"/><path d="M1011 1168L1095 1281"/><path d="M1227 1163L1343 1274"/><path d="M1227 1163L1187 1312"/>
<path d="M1258 1231L1343 1274"/><path d="M1258 1231L1187 1312"/><path d="M1258 1231L1095 1281"/>
<path d="M185 1140L185 1231"/><path d="M185 1140L494 1217"/><path d="M185 1231L494 1217"/><path d="M185 1231L344 1282"/><path d="M185 1231L240 1359"/>
<path d="M494 1217L344 1282"/><path d="M494 1217L435 1391"/><path d="M494 1217L599 1346"/><path d="M494 1217L720 1309"/><path d="M759 1192L720 1309"/>
<path d="M344 1282L240 1359"/><path d="M344 1282L332 1381"/><path d="M344 1282L720 1309"/>
<path d="M806 1259L599 1346"/><path d="M806 1259L934 1292"/><path d="M806 1259L1095 1281"/><path d="M806 1259L845 1368"/>
<path d="M934 1292L720 1309"/><path d="M934 1292L782 1413"/><path d="M934 1292L941 1417"/>
<path d="M1095 1281L1343 1274"/><path d="M1095 1281L1080 1347"/><path d="M1095 1281L951 1376"/>
<path d="M1187 1312L1343 1274"/><path d="M1187 1312L782 1413"/><path d="M1187 1312L951 1376"/>
<path d="M720 1309L1080 1347"/><path d="M720 1309L695 1384"/><path d="M720 1309L782 1413"/><path d="M720 1309L599 1346"/>
<path d="M1080 1347L951 1376"/><path d="M1080 1347L941 1417"/>
<path d="M599 1346L590 1386"/><path d="M599 1346L845 1368"/><path d="M599 1346L634 1436"/><path d="M599 1346L725 1465"/><path d="M599 1346L781 1511"/>
<path d="M332 1381L240 1359"/><path d="M332 1381L435 1391"/><path d="M332 1381L599 1346"/>
<path d="M435 1391L590 1386"/><path d="M435 1391L634 1436"/><path d="M435 1391L594 1503"/>
<path d="M590 1386L695 1384"/><path d="M590 1386L634 1436"/><path d="M590 1386L782 1413"/>
<path d="M695 1384L782 1413"/><path d="M695 1384L634 1436"/><path d="M695 1384L725 1465"/><path d="M695 1384L845 1368"/>
<path d="M845 1368L782 1413"/><path d="M845 1368L941 1417"/>
<path d="M951 1376L782 1413"/><path d="M951 1376L725 1465"/><path d="M951 1376L781 1511"/>
<path d="M782 1413L941 1417"/><path d="M782 1413L634 1436"/>
<path d="M634 1436L725 1465"/><path d="M634 1436L594 1503"/><path d="M725 1465L594 1503"/><path d="M725 1465L781 1511"/><path d="M594 1503L781 1511"/><path d="M634 1436L781 1511"/>
</g>
<g class="nd">
<g id="p04-n1" transform="translate(1343 1274)"><circle r="8.5"/><text x="25" y="12">1</text></g>
<g id="p04-n2" transform="translate(1080 1347)"><circle r="8.5"/><text x="25" y="12">2</text></g>
<g id="p04-n3" transform="translate(185 1231)"><circle r="8.5"/><text x="25" y="12">3</text></g>
<g id="p04-n4" transform="translate(871 1081)"><circle r="8.5"/><text x="25" y="12">4</text></g>
<g id="p04-n5" transform="translate(590 1386)"><circle r="8.5"/><text x="25" y="12">5</text></g>
<g id="p04-n6" transform="translate(599 1346)"><circle r="8.5"/><text x="25" y="12">6</text></g>
<g id="p04-n7" transform="translate(634 1436)"><circle r="8.5"/><text x="25" y="12">7</text></g>
<g id="p04-n8" transform="translate(1227 1163)"><circle r="8.5"/><text x="25" y="12">8</text></g>
<g id="p04-n9" transform="translate(1073 957)"><circle r="8.5"/><text x="25" y="12">9</text></g>
<g id="p04-n10" transform="translate(695 1384)"><circle r="8.5"/><text x="25" y="12">10</text></g>
<g id="p04-n11" transform="translate(435 1391)"><circle r="8.5"/><text x="25" y="12">11</text></g>
<g id="p04-n12" transform="translate(1016 1124)"><circle r="8.5"/><text x="25" y="12">12</text></g>
<g id="p04-n13" transform="translate(185 1140)"><circle r="8.5"/><text x="25" y="12">13</text></g>
<g id="p04-n14" transform="translate(934 1292)"><circle r="8.5"/><text x="25" y="12">14</text></g>
<g id="p04-n15" transform="translate(1095 1281)"><circle r="8.5"/><text x="25" y="12">15</text></g>
<g id="p04-n16" transform="translate(781 1511)"><circle r="8.5"/><text x="25" y="12">16</text></g>
<g id="p04-n17" transform="translate(594 1503)"><circle r="8.5"/><text x="25" y="12">17</text></g>
<g id="p04-n18" transform="translate(845 1368)"><circle r="8.5"/><text x="25" y="12">18</text></g>
<g id="p04-n19" transform="translate(494 1217)"><circle r="8.5"/><text x="25" y="12">19</text></g>
<g id="p04-n20" transform="translate(332 1381)"><circle r="8.5"/><text x="25" y="12">20</text></g>
<g id="p04-n21" transform="translate(240 1359)"><circle r="8.5"/><text x="25" y="12">21</text></g>
<g id="p04-n22" transform="translate(782 1413)"><circle r="8.5"/><text x="25" y="12">22</text></g>
<g id="p04-n23" transform="translate(1011 1168)"><circle r="8.5"/><text x="25" y="12">23</text></g>
<g id="p04-n24" transform="translate(725 1465)"><circle r="8.5"/><text x="25" y="12">24</text></g>
<g id="p04-n25" transform="translate(759 1192)"><circle r="8.5"/><text x="25" y="12">25</text></g>
<g id="p04-n26" transform="translate(951 1376)"><circle r="8.5"/><text x="25" y="12">26</text></g>
<g id="p04-n27" transform="translate(720 1309)"><circle r="8.5"/><text x="25" y="12">27</text></g>
<g id="p04-n28" transform="translate(941 1417)"><circle r="8.5"/><text x="25" y="12">28</text></g>
<g id="p04-n29" transform="translate(1187 1312)"><circle r="8.5"/><text x="25" y="12">29</text></g>
<g id="p04-n30" transform="translate(1243 1057)"><circle r="8.5"/><text x="25" y="12">30</text></g>
<g id="p04-n31" transform="translate(1258 1231)"><circle r="8.5"/><text x="25" y="12">31</text></g>
<g id="p04-n32" transform="translate(344 1282)"><circle r="8.5"/><text x="25" y="12">32</text></g>
<g id="p04-n33" transform="translate(921 915)"><circle r="8.5"/><text x="25" y="12">33</text></g>
<g id="p04-n34" transform="translate(806 1259)"><circle r="8.5"/><text x="25" y="12">34</text></g>
</g>
</g>

<g id="panel-0.5" transform="translate(1946 360)">
<g class="ed" id="p05-edges">
<path d="M708 915L786 949"/><path d="M708 915L684 1002"/><path d="M684 1002L786 949"/><path d="M786 949L887 1015"/><path d="M887 1015L999 987"/><path d="M887 1015L945 1048"/><path d="M999 987L945 1048"/>
<path d="M887 1015L820 1125"/><path d="M945 1048L820 1125"/><path d="M684 1002L631 1139"/><path d="M744 1121L820 1125"/><path d="M744 1121L680 1180"/><path d="M680 1180L820 1125"/><path d="M820 1125L758 1180"/><path d="M820 1125L717 1246"/>
<path d="M631 1139L569 1172"/><path d="M631 1139L680 1180"/><path d="M631 1139L652 1200"/><path d="M631 1139L643 1229"/><path d="M631 1139L717 1246"/>
<path d="M569 1172L424 1206"/><path d="M569 1172L680 1180"/><path d="M569 1172L758 1180"/><path d="M569 1172L652 1200"/><path d="M569 1172L717 1246"/><path d="M569 1172L536 1244"/>
<path d="M536 1244L327 1241"/><path d="M536 1244L390 1290"/><path d="M536 1244L581 1307"/><path d="M536 1244L680 1180"/><path d="M536 1244L652 1200"/><path d="M536 1244L717 1246"/><path d="M536 1244L758 1180"/><path d="M536 1244L726 1280"/>
<path d="M390 1290L652 1200"/><path d="M573 1244L643 1229"/><path d="M573 1244L581 1307"/><path d="M573 1244L717 1246"/>
<path d="M652 1200L697 1202"/><path d="M652 1200L717 1246"/><path d="M652 1200L726 1280"/><path d="M652 1200L758 1180"/><path d="M652 1200L680 1180"/><path d="M643 1229L717 1246"/>
<path d="M726 1280L861 1347"/><path d="M717 1246L861 1347"/><path d="M717 1246L581 1307"/><path d="M861 1347L982 1384"/><path d="M861 1347L983 1444"/><path d="M983 1444L1076 1511"/>
<path d="M390 1290L424 1206"/><path d="M390 1290L448 1379"/><path d="M448 1379L581 1307"/><path d="M448 1379L396 1469"/>
<path d="M327 1241L185 1253"/><path d="M185 1253L253 1269"/><path d="M185 1253L232 1306"/><path d="M253 1269L390 1290"/><path d="M232 1306L390 1290"/><path d="M264 1348L390 1290"/>
<path d="M680 1180L758 1180"/><path d="M697 1202L758 1180"/>
</g>
<g class="nd">
<g id="p05-n1" transform="translate(999 987)"><circle r="8.5"/><text x="25" y="12">1</text></g>
<g id="p05-n2" transform="translate(945 1048)"><circle r="8.5"/><text x="25" y="12">2</text></g>
<g id="p05-n3" transform="translate(232 1306)"><circle r="8.5"/><text x="25" y="12">3</text></g>
<g id="p05-n4" transform="translate(448 1379)"><circle r="8.5"/><text x="25" y="12">4</text></g>
<g id="p05-n5" transform="translate(643 1229)"><circle r="8.5"/><text x="25" y="12">5</text></g>
<g id="p05-n6" transform="translate(536 1244)"><circle r="8.5"/><text x="25" y="12">6</text></g>
<g id="p05-n7" transform="translate(758 1180)"><circle r="8.5"/><text x="25" y="12">7</text></g>
<g id="p05-n8" transform="translate(982 1384)"><circle r="8.5"/><text x="25" y="12">8</text></g>
<g id="p05-n9" transform="translate(1343 1511)"><circle r="8.5"/><text x="25" y="12">9</text></g>
<g id="p05-n10" transform="translate(631 1139)"><circle r="8.5"/><text x="25" y="12">10</text></g>
<g id="p05-n11" transform="translate(424 1206)"><circle r="8.5"/><text x="25" y="12">11</text></g>
<g id="p05-n12" transform="translate(708 915)"><circle r="8.5"/><text x="25" y="12">12</text></g>
<g id="p05-n13" transform="translate(264 1348)"><circle r="8.5"/><text x="25" y="12">13</text></g>
<g id="p05-n14" transform="translate(744 1121)"><circle r="8.5"/><text x="25" y="12">14</text></g>
<g id="p05-n15" transform="translate(887 1015)"><circle r="8.5"/><text x="25" y="12">15</text></g>
<g id="p05-n16" transform="translate(697 1202)"><circle r="8.5"/><text x="25" y="12">16</text></g>
<g id="p05-n17" transform="translate(569 1172)"><circle r="8.5"/><text x="25" y="12">17</text></g>
<g id="p05-n18" transform="translate(717 1246)"><circle r="8.5"/><text x="25" y="12">18</text></g>
<g id="p05-n19" transform="translate(390 1290)"><circle r="8.5"/><text x="25" y="12">19</text></g>
<g id="p05-n20" transform="translate(327 1241)"><circle r="8.5"/><text x="25" y="12">20</text></g>
<g id="p05-n21" transform="translate(185 1253)"><circle r="8.5"/><text x="25" y="12">21</text></g>
<g id="p05-n22" transform="translate(652 1200)"><circle r="8.5"/><text x="25" y="12">22</text></g>
<g id="p05-n23" transform="translate(786 949)"><circle r="8.5"/><text x="25" y="12">23</text></g>
<g id="p05-n24" transform="translate(680 1180)"><circle r="8.5"/><text x="25" y="12">24</text></g>
<g id="p05-n25" transform="translate(684 1002)"><circle r="8.5"/><text x="25" y="12">25</text></g>
<g id="p05-n26" transform="translate(726 1280)"><circle r="8.5"/><text x="25" y="12">26</text></g>
<g id="p05-n27" transform="translate(573 1244)"><circle r="8.5"/><text x="25" y="12">27</text></g>
<g id="p05-n28" transform="translate(820 1125)"><circle r="8.5"/><text x="25" y="12">28</text></g>
<g id="p05-n29" transform="translate(861 1347)"><circle r="8.5"/><text x="25" y="12">29</text></g>
<g id="p05-n30" transform="translate(1076 1511)"><circle r="8.5"/><text x="25" y="12">30</text></g>
<g id="p05-n31" transform="translate(983 1444)"><circle r="8.5"/><text x="25" y="12">31</text></g>
<g id="p05-n32" transform="translate(253 1269)"><circle r="8.5"/><text x="25" y="12">32</text></g>
<g id="p05-n33" transform="translate(396 1469)"><circle r="8.5"/><text x="25" y="12">33</text></g>
<g id="p05-n34" transform="translate(581 1307)"><circle r="8.5"/><text x="25" y="12">34</text></g>
</g>
</g>

<g id="panel-0.6" transform="translate(3475 360)">
<g class="ed" id="p06-edges">
<path d="M770 915L724 951"/><path d="M724 951L658 999"/><path d="M671 945L658 999"/><path d="M658 999L704 1024"/><path d="M704 1024L683 1062"/><path d="M683 1062L622 1073"/><path d="M658 999L622 1073"/><path d="M622 1073L543 1137"/><path d="M543 1137L450 1193"/>
<path d="M658 999L578 1008"/><path d="M578 1008L500 1042"/><path d="M500 1042L455 1046"/><path d="M455 1046L440 1101"/><path d="M500 1042L440 1101"/><path d="M440 1101L395 1095"/><path d="M395 1095L406 1143"/><path d="M440 1101L406 1143"/>
<path d="M406 1143L361 1193"/><path d="M406 1143L450 1193"/><path d="M361 1193L415 1188"/><path d="M415 1188L450 1193"/><path d="M440 1101L415 1188"/><path d="M415 1188L407 1265"/><path d="M415 1188L422 1232"/><path d="M450 1193L407 1265"/><path d="M450 1193L385 1237"/>
<path d="M385 1237L320 1255"/><path d="M361 1193L320 1255"/><path d="M320 1255L263 1238"/><path d="M320 1255L244 1289"/><path d="M320 1255L278 1292"/><path d="M244 1289L278 1292"/><path d="M244 1289L185 1312"/><path d="M320 1255L407 1265"/><path d="M385 1237L407 1265"/><path d="M422 1232L407 1265"/>
<path d="M407 1265L430 1374"/><path d="M430 1374L406 1422"/><path d="M430 1374L472 1409"/><path d="M430 1374L445 1453"/><path d="M445 1453L455 1512"/>
<path d="M1108 1299L946 1454"/><path d="M1108 1299L1167 1512"/><path d="M946 1454L1167 1512"/>
</g>
<g class="nd">
<g id="p06-n1" transform="translate(185 1312)"><circle r="8.5"/><text x="25" y="12">1</text></g>
<g id="p06-n2" transform="translate(278 1292)"><circle r="8.5"/><text x="25" y="12">2</text></g>
<g id="p06-n3" transform="translate(704 1024)"><circle r="8.5"/><text x="25" y="12">3</text></g>
<g id="p06-n4" transform="translate(724 951)"><circle r="8.5"/><text x="25" y="12">4</text></g>
<g id="p06-n5" transform="translate(415 1188)"><circle r="8.5"/><text x="25" y="12">5</text></g>
<g id="p06-n6" transform="translate(450 1193)"><circle r="8.5"/><text x="25" y="12">6</text></g>
<g id="p06-n7" transform="translate(361 1193)"><circle r="8.5"/><text x="25" y="12">7</text></g>
<g id="p06-n8" transform="translate(472 1409)"><circle r="8.5"/><text x="25" y="12">8</text></g>
<g id="p06-n9" transform="translate(1343 1512)"><circle r="8.5"/><text x="25" y="12">9</text></g>
<g id="p06-n10" transform="translate(440 1101)"><circle r="8.5"/><text x="25" y="12">10</text></g>
<g id="p06-n11" transform="translate(578 1008)"><circle r="8.5"/><text x="25" y="12">11</text></g>
<g id="p06-n12" transform="translate(1167 1512)"><circle r="8.5"/><text x="25" y="12">12</text></g>
<g id="p06-n13" transform="translate(671 945)"><circle r="8.5"/><text x="25" y="12">13</text></g>
<g id="p06-n14" transform="translate(263 1238)"><circle r="8.5"/><text x="25" y="12">14</text></g>
<g id="p06-n15" transform="translate(244 1289)"><circle r="8.5"/><text x="25" y="12">15</text></g>
<g id="p06-n16" transform="translate(455 1046)"><circle r="8.5"/><text x="25" y="12">16</text></g>
<g id="p06-n17" transform="translate(500 1042)"><circle r="8.5"/><text x="25" y="12">17</text></g>
<g id="p06-n18" transform="translate(407 1265)"><circle r="8.5"/><text x="25" y="12">18</text></g>
<g id="p06-n19" transform="translate(658 999)"><circle r="8.5"/><text x="25" y="12">19</text></g>
<g id="p06-n20" transform="translate(543 1137)"><circle r="8.5"/><text x="25" y="12">20</text></g>
<g id="p06-n21" transform="translate(683 1062)"><circle r="8.5"/><text x="25" y="12">21</text></g>
<g id="p06-n22" transform="translate(406 1143)"><circle r="8.5"/><text x="25" y="12">22</text></g>
<g id="p06-n23" transform="translate(946 1454)"><circle r="8.5"/><text x="25" y="12">23</text></g>
<g id="p06-n24" transform="translate(385 1237)"><circle r="8.5"/><text x="25" y="12">24</text></g>
<g id="p06-n25" transform="translate(1108 1299)"><circle r="8.5"/><text x="25" y="12">25</text></g>
<g id="p06-n26" transform="translate(406 1422)"><circle r="8.5"/><text x="25" y="12">26</text></g>
<g id="p06-n27" transform="translate(395 1095)"><circle r="8.5"/><text x="25" y="12">27</text></g>
<g id="p06-n28" transform="translate(320 1255)"><circle r="8.5"/><text x="25" y="12">28</text></g>
<g id="p06-n29" transform="translate(430 1374)"><circle r="8.5"/><text x="25" y="12">29</text></g>
<g id="p06-n30" transform="translate(455 1512)"><circle r="8.5"/><text x="25" y="12">30</text></g>
<g id="p06-n31" transform="translate(445 1453)"><circle r="8.5"/><text x="25" y="12">31</text></g>
<g id="p06-n32" transform="translate(622 1073)"><circle r="8.5"/><text x="25" y="12">32</text></g>
<g id="p06-n33" transform="translate(770 915)"><circle r="8.5"/><text x="25" y="12">33</text></g>
<g id="p06-n34" transform="translate(422 1232)"><circle r="8.5"/><text x="25" y="12">34</text></g>
</g>
</g>

<g id="panel-0.7" transform="translate(5004 360)">
<g class="ed" id="p07-edges">
<path d="M610 915L616 958"/><path d="M616 958L630 1013"/><path d="M630 1013L672 979"/><path d="M672 979L713 965"/><path d="M630 1013L706 998"/><path d="M706 998L762 995"/><path d="M630 1013L659 1038"/>
<path d="M630 1013L559 1069"/><path d="M559 1069L486 1127"/><path d="M486 1127L412 1188"/><path d="M406 1152L412 1188"/><path d="M412 1188L353 1202"/><path d="M353 1202L308 1237"/><path d="M258 1214L308 1237"/>
<path d="M308 1237L328 1294"/><path d="M412 1188L366 1264"/><path d="M366 1264L328 1294"/><path d="M366 1264L326 1335"/><path d="M328 1294L326 1335"/><path d="M326 1335L376 1342"/><path d="M326 1335L337 1354"/>
<path d="M326 1335L243 1362"/><path d="M243 1362L185 1363"/><path d="M243 1362L202 1394"/><path d="M326 1335L350 1403"/><path d="M337 1354L350 1403"/><path d="M350 1403L396 1428"/><path d="M350 1403L341 1446"/><path d="M341 1446L362 1465"/><path d="M350 1403L362 1465"/><path d="M362 1465L371 1512"/>
<path d="M936 1324L1170 1374"/><path d="M1170 1374L999 1512"/><path d="M936 1324L999 1512"/><path d="M1343 1409L1343 1512"/>
</g>
<g class="nd">
<g id="p07-n1" transform="translate(371 1512)"><circle r="8.5"/><text x="25" y="12">1</text></g>
<g id="p07-n2" transform="translate(341 1446)"><circle r="8.5"/><text x="25" y="12">2</text></g>
<g id="p07-n3" transform="translate(672 979)"><circle r="8.5"/><text x="25" y="12">3</text></g>
<g id="p07-n4" transform="translate(616 958)"><circle r="8.5"/><text x="25" y="12">4</text></g>
<g id="p07-n5" transform="translate(366 1264)"><circle r="8.5"/><text x="25" y="12">5</text></g>
<g id="p07-n6" transform="translate(328 1294)"><circle r="8.5"/><text x="25" y="12">6</text></g>
<g id="p07-n7" transform="translate(258 1214)"><circle r="8.5"/><text x="25" y="12">7</text></g>
<g id="p07-n8" transform="translate(185 1363)"><circle r="8.5"/><text x="25" y="12">8</text></g>
<g id="p07-n9" transform="translate(936 1145)"><circle r="8.5"/><text x="25" y="12">9</text></g>
<g id="p07-n10" transform="translate(412 1188)"><circle r="8.5"/><text x="25" y="12">10</text></g>
<g id="p07-n11" transform="translate(559 1069)"><circle r="8.5"/><text x="25" y="12">11</text></g>
<g id="p07-n12" transform="translate(936 1324)"><circle r="8.5"/><text x="25" y="12">12</text></g>
<g id="p07-n13" transform="translate(659 1038)"><circle r="8.5"/><text x="25" y="12">13</text></g>
<g id="p07-n14" transform="translate(396 1428)"><circle r="8.5"/><text x="25" y="12">14</text></g>
<g id="p07-n15" transform="translate(362 1465)"><circle r="8.5"/><text x="25" y="12">15</text></g>
<g id="p07-n16" transform="translate(406 1152)"><circle r="8.5"/><text x="25" y="12">16</text></g>
<g id="p07-n17" transform="translate(486 1127)"><circle r="8.5"/><text x="25" y="12">17</text></g>
<g id="p07-n18" transform="translate(326 1335)"><circle r="8.5"/><text x="25" y="12">18</text></g>
<g id="p07-n19" transform="translate(630 1013)"><circle r="8.5"/><text x="25" y="12">19</text></g>
<g id="p07-n20" transform="translate(762 995)"><circle r="8.5"/><text x="25" y="12">20</text></g>
<g id="p07-n21" transform="translate(713 965)"><circle r="8.5"/><text x="25" y="12">21</text></g>
<g id="p07-n22" transform="translate(308 1237)"><circle r="8.5"/><text x="25" y="12">22</text></g>
<g id="p07-n23" transform="translate(999 1512)"><circle r="8.5"/><text x="25" y="12">23</text></g>
<g id="p07-n24" transform="translate(337 1354)"><circle r="8.5"/><text x="25" y="12">24</text></g>
<g id="p07-n25" transform="translate(1170 1374)"><circle r="8.5"/><text x="25" y="12">25</text></g>
<g id="p07-n26" transform="translate(202 1394)"><circle r="8.5"/><text x="25" y="12">26</text></g>
<g id="p07-n27" transform="translate(353 1202)"><circle r="8.5"/><text x="25" y="12">27</text></g>
<g id="p07-n28" transform="translate(350 1403)"><circle r="8.5"/><text x="25" y="12">28</text></g>
<g id="p07-n29" transform="translate(243 1362)"><circle r="8.5"/><text x="25" y="12">29</text></g>
<g id="p07-n30" transform="translate(1343 1512)"><circle r="8.5"/><text x="25" y="12">30</text></g>
<g id="p07-n31" transform="translate(1343 1409)"><circle r="8.5"/><text x="25" y="12">31</text></g>
<g id="p07-n32" transform="translate(706 998)"><circle r="8.5"/><text x="25" y="12">32</text></g>
<g id="p07-n33" transform="translate(610 915)"><circle r="8.5"/><text x="25" y="12">33</text></g>
<g id="p07-n34" transform="translate(376 1342)"><circle r="8.5"/><text x="25" y="12">34</text></g>
</g>
</g>

<g id="panel-0.8" transform="translate(417 2100)">
<g class="ed" id="p08-edges">
<path d="M568 46L574 82"/><path d="M574 82L585 126"/><path d="M585 126L599 176"/><path d="M599 176L617 230"/><path d="M632 205L617 230"/><path d="M617 230L661 222"/><path d="M661 222L695 215"/>
<path d="M617 230L596 289"/><path d="M596 289L571 348"/><path d="M571 348L541 405"/><path d="M541 405L568 421"/><path d="M541 405L495 450"/><path d="M495 450L444 491"/><path d="M444 491L467 515"/><path d="M444 491L383 519"/>
<path d="M185 474L219 490"/><path d="M219 490L239 490"/><path d="M239 490L263 515"/><path d="M232 534L263 515"/><path d="M263 515L325 540"/><path d="M325 540L306 522"/><path d="M325 540L353 519"/><path d="M353 519L383 519"/><path d="M383 519L360 545"/>
<path d="M325 540L310 600"/><path d="M310 600L287 632"/><path d="M310 600L314 641"/>
<path d="M986 430L848 585"/><path d="M986 430L1037 641"/><path d="M848 585L1037 641"/><path d="M1190 526L1190 641"/>
</g>
<g class="nd">
<g id="p08-n1" transform="translate(185 474)"><circle r="8.5"/><text x="25" y="12">1</text></g>
<g id="p08-n2" transform="translate(239 490)"><circle r="8.5"/><text x="25" y="12">2</text></g>
<g id="p08-n3" transform="translate(599 176)"><circle r="8.5"/><text x="25" y="12">3</text></g>
<g id="p08-n4" transform="translate(661 222)"><circle r="8.5"/><text x="25" y="12">4</text></g>
<g id="p08-n5" transform="translate(360 545)"><circle r="8.5"/><text x="25" y="12">5</text></g>
<g id="p08-n6" transform="translate(383 519)"><circle r="8.5"/><text x="25" y="12">6</text></g>
<g id="p08-n7" transform="translate(467 515)"><circle r="8.5"/><text x="25" y="12">7</text></g>
<g id="p08-n8" transform="translate(287 632)"><circle r="8.5"/><text x="25" y="12">8</text></g>
<g id="p08-n9" transform="translate(1343 641)"><circle r="8.5"/><text x="25" y="12">9</text></g>
<g id="p08-n10" transform="translate(541 405)"><circle r="8.5"/><text x="25" y="12">10</text></g>
<g id="p08-n11" transform="translate(596 289)"><circle r="8.5"/><text x="25" y="12">11</text></g>
<g id="p08-n12" transform="translate(1037 641)"><circle r="8.5"/><text x="25" y="12">12</text></g>
<g id="p08-n13" transform="translate(632 205)"><circle r="8.5"/><text x="25" y="12">13</text></g>
<g id="p08-n14" transform="translate(232 534)"><circle r="8.5"/><text x="25" y="12">14</text></g>
<g id="p08-n15" transform="translate(219 490)"><circle r="8.5"/><text x="25" y="12">15</text></g>
<g id="p08-n16" transform="translate(568 421)"><circle r="8.5"/><text x="25" y="12">16</text></g>
<g id="p08-n17" transform="translate(571 348)"><circle r="8.5"/><text x="25" y="12">17</text></g>
<g id="p08-n18" transform="translate(325 540)"><circle r="8.5"/><text x="25" y="12">18</text></g>
<g id="p08-n19" transform="translate(617 230)"><circle r="8.5"/><text x="25" y="12">19</text></g>
<g id="p08-n20" transform="translate(568 46)"><circle r="8.5"/><text x="25" y="12">20</text></g>
<g id="p08-n21" transform="translate(585 126)"><circle r="8.5"/><text x="25" y="12">21</text></g>
<g id="p08-n22" transform="translate(444 491)"><circle r="8.5"/><text x="25" y="12">22</text></g>
<g id="p08-n23" transform="translate(848 585)"><circle r="8.5"/><text x="25" y="12">23</text></g>
<g id="p08-n24" transform="translate(353 519)"><circle r="8.5"/><text x="25" y="12">24</text></g>
<g id="p08-n25" transform="translate(986 430)"><circle r="8.5"/><text x="25" y="12">25</text></g>
<g id="p08-n26" transform="translate(314 641)"><circle r="8.5"/><text x="25" y="12">26</text></g>
<g id="p08-n27" transform="translate(495 450)"><circle r="8.5"/><text x="25" y="12">27</text></g>
<g id="p08-n28" transform="translate(263 515)"><circle r="8.5"/><text x="25" y="12">28</text></g>
<g id="p08-n29" transform="translate(310 600)"><circle r="8.5"/><text x="25" y="12">29</text></g>
<g id="p08-n30" transform="translate(1190 641)"><circle r="8.5"/><text x="25" y="12">30</text></g>
<g id="p08-n31" transform="translate(1190 526)"><circle r="8.5"/><text x="25" y="12">31</text></g>
<g id="p08-n32" transform="translate(574 82)"><circle r="8.5"/><text x="25" y="12">32</text></g>
<g id="p08-n33" transform="translate(695 215)"><circle r="8.5"/><text x="25" y="12">33</text></g>
<g id="p08-n34" transform="translate(306 522)"><circle r="8.5"/><text x="25" y="12">34</text></g>
</g>
</g>

<g id="panel-0.9" transform="translate(1946 2100)">
<g class="ed" id="p09-edges">
<path d="M185 46L238 73"/><path d="M238 73L302 106"/><path d="M302 106L370 141"/><path d="M370 141L440 176"/><path d="M440 176L508 211"/><path d="M508 211L573 243"/><path d="M573 243L627 270"/>
<path d="M886 266L1163 304"/><path d="M1163 304L960 406"/><path d="M886 266L960 406"/><path d="M1325 330L1325 406"/>
<path d="M449 396L463 435"/><path d="M463 435L567 406"/><path d="M567 406L655 378"/><path d="M655 378L726 356"/>
<path d="M185 446L267 461"/><path d="M267 461L369 483"/><path d="M369 483L309 505"/><path d="M369 483L380 545"/><path d="M380 545L383 599"/><path d="M383 599L384 641"/><path d="M369 483L463 435"/>
<path d="M886 492L981 540"/><path d="M981 540L1086 593"/><path d="M1086 593L1181 641"/><path d="M1343 565L1343 641"/>
</g>
<g class="nd">
<g id="p09-n1" transform="translate(726 356)"><circle r="8.5"/><text x="25" y="12">1</text></g>
<g id="p09-n2" transform="translate(567 406)"><circle r="8.5"/><text x="25" y="12">2</text></g>
<g id="p09-n3" transform="translate(1181 641)"><circle r="8.5"/><text x="25" y="12">3</text></g>
<g id="p09-n4" transform="translate(1343 641)"><circle r="8.5"/><text x="25" y="12">4</text></g>
<g id="p09-n5" transform="translate(384 641)"><circle r="8.5"/><text x="25" y="12">5</text></g>
<g id="p09-n6" transform="translate(383 599)"><circle r="8.5"/><text x="25" y="12">6</text></g>
<g id="p09-n7" transform="translate(185 46)"><circle r="8.5"/><text x="25" y="12">7</text></g>
<g id="p09-n8" transform="translate(185 446)"><circle r="8.5"/><text x="25" y="12">8</text></g>
<g id="p09-n9" transform="translate(886 180)"><circle r="8.5"/><text x="25" y="12">9</text></g>
<g id="p09-n10" transform="translate(370 141)"><circle r="8.5"/><text x="25" y="12">10</text></g>
<g id="p09-n11" transform="translate(508 211)"><circle r="8.5"/><text x="25" y="12">11</text></g>
<g id="p09-n12" transform="translate(886 266)"><circle r="8.5"/><text x="25" y="12">12</text></g>
<g id="p09-n13" transform="translate(627 270)"><circle r="8.5"/><text x="25" y="12">13</text></g>
<g id="p09-n14" transform="translate(449 396)"><circle r="8.5"/><text x="25" y="12">14</text></g>
<g id="p09-n15" transform="translate(655 378)"><circle r="8.5"/><text x="25" y="12">15</text></g>
<g id="p09-n16" transform="translate(1048 180)"><circle r="8.5"/><text x="25" y="12">16</text></g>
<g id="p09-n17" transform="translate(440 176)"><circle r="8.5"/><text x="25" y="12">17</text></g>
<g id="p09-n18" transform="translate(369 483)"><circle r="8.5"/><text x="25" y="12">18</text></g>
<g id="p09-n19" transform="translate(573 243)"><circle r="8.5"/><text x="25" y="12">19</text></g>
<g id="p09-n20" transform="translate(886 492)"><circle r="8.5"/><text x="25" y="12">20</text></g>
<g id="p09-n21" transform="translate(1086 593)"><circle r="8.5"/><text x="25" y="12">21</text></g>
<g id="p09-n22" transform="translate(238 73)"><circle r="8.5"/><text x="25" y="12">22</text></g>
<g id="p09-n23" transform="translate(960 406)"><circle r="8.5"/><text x="25" y="12">23</text></g>
<g id="p09-n24" transform="translate(380 545)"><circle r="8.5"/><text x="25" y="12">24</text></g>
<g id="p09-n25" transform="translate(1163 304)"><circle r="8.5"/><text x="25" y="12">25</text></g>
<g id="p09-n26" transform="translate(1210 180)"><circle r="8.5"/><text x="25" y="12">26</text></g>
<g id="p09-n27" transform="translate(302 106)"><circle r="8.5"/><text x="25" y="12">27</text></g>
<g id="p09-n28" transform="translate(463 435)"><circle r="8.5"/><text x="25" y="12">28</text></g>
<g id="p09-n29" transform="translate(267 461)"><circle r="8.5"/><text x="25" y="12">29</text></g>
<g id="p09-n30" transform="translate(1325 406)"><circle r="8.5"/><text x="25" y="12">30</text></g>
<g id="p09-n31" transform="translate(1325 330)"><circle r="8.5"/><text x="25" y="12">31</text></g>
<g id="p09-n32" transform="translate(981 540)"><circle r="8.5"/><text x="25" y="12">32</text></g>
<g id="p09-n33" transform="translate(1343 565)"><circle r="8.5"/><text x="25" y="12">33</text></g>
<g id="p09-n34" transform="translate(309 505)"><circle r="8.5"/><text x="25" y="12">34</text></g>
</g>
</g>

<g id="panel-1" transform="translate(3475 2100)">
<g class="ed" id="p10-edges">
<path d="M185 46L290 106"/><path d="M290 106L405 173"/><path d="M405 173L510 234"/><path d="M668 138L668 234"/><path d="M869 85L869 181"/><path d="M869 275L869 371"/><path d="M1027 275L1027 371"/><path d="M1185 275L1185 371"/><path d="M1343 275L1343 371"/>
<path d="M185 382L278 425"/><path d="M278 425L391 482"/><path d="M391 482L293 506"/><path d="M391 482L516 423"/><path d="M516 423L624 370"/><path d="M624 370L711 328"/><path d="M391 482L419 578"/><path d="M419 578L371 641"/><path d="M419 578L496 630"/>
<path d="M869 465L1174 512"/><path d="M1174 512L951 641"/><path d="M869 465L951 641"/><path d="M1332 545L1332 641"/>
</g>
<g class="nd">
<g id="p10-n1" transform="translate(668 234)"><circle r="8.5"/><text x="25" y="12">1</text></g>
<g id="p10-n2" transform="translate(496 630)"><circle r="8.5"/><text x="25" y="12">2</text></g>
<g id="p10-n3" transform="translate(185 46)"><circle r="8.5"/><text x="25" y="12">3</text></g>
<g id="p10-n4" transform="translate(1332 641)"><circle r="8.5"/><text x="25" y="12">4</text></g>
<g id="p10-n5" transform="translate(711 328)"><circle r="8.5"/><text x="25" y="12">5</text></g>
<g id="p10-n6" transform="translate(624 370)"><circle r="8.5"/><text x="25" y="12">6</text></g>
<g id="p10-n7" transform="translate(869 371)"><circle r="8.5"/><text x="25" y="12">7</text></g>
<g id="p10-n8" transform="translate(185 382)"><circle r="8.5"/><text x="25" y="12">8</text></g>
<g id="p10-n9" transform="translate(1027 181)"><circle r="8.5"/><text x="25" y="12">9</text></g>
<g id="p10-n10" transform="translate(1027 371)"><circle r="8.5"/><text x="25" y="12">10</text></g>
<g id="p10-n11" transform="translate(1185 371)"><circle r="8.5"/><text x="25" y="12">11</text></g>
<g id="p10-n12" transform="translate(869 465)"><circle r="8.5"/><text x="25" y="12">12</text></g>
<g id="p10-n13" transform="translate(1343 371)"><circle r="8.5"/><text x="25" y="12">13</text></g>
<g id="p10-n14" transform="translate(371 641)"><circle r="8.5"/><text x="25" y="12">14</text></g>
<g id="p10-n15" transform="translate(668 138)"><circle r="8.5"/><text x="25" y="12">15</text></g>
<g id="p10-n16" transform="translate(1185 181)"><circle r="8.5"/><text x="25" y="12">16</text></g>
<g id="p10-n17" transform="translate(1185 275)"><circle r="8.5"/><text x="25" y="12">17</text></g>
<g id="p10-n18" transform="translate(391 482)"><circle r="8.5"/><text x="25" y="12">18</text></g>
<g id="p10-n19" transform="translate(1343 275)"><circle r="8.5"/><text x="25" y="12">19</text></g>
<g id="p10-n20" transform="translate(510 234)"><circle r="8.5"/><text x="25" y="12">20</text></g>
<g id="p10-n21" transform="translate(290 106)"><circle r="8.5"/><text x="25" y="12">21</text></g>
<g id="p10-n22" transform="translate(869 275)"><circle r="8.5"/><text x="25" y="12">22</text></g>
<g id="p10-n23" transform="translate(951 641)"><circle r="8.5"/><text x="25" y="12">23</text></g>
<g id="p10-n24" transform="translate(516 423)"><circle r="8.5"/><text x="25" y="12">24</text></g>
<g id="p10-n25" transform="translate(1174 512)"><circle r="8.5"/><text x="25" y="12">25</text></g>
<g id="p10-n26" transform="translate(1343 181)"><circle r="8.5"/><text x="25" y="12">26</text></g>
<g id="p10-n27" transform="translate(1027 275)"><circle r="8.5"/><text x="25" y="12">27</text></g>
<g id="p10-n28" transform="translate(419 578)"><circle r="8.5"/><text x="25" y="12">28</text></g>
<g id="p10-n29" transform="translate(278 425)"><circle r="8.5"/><text x="25" y="12">29</text></g>
<g id="p10-n30" transform="translate(869 181)"><circle r="8.5"/><text x="25" y="12">30</text></g>
<g id="p10-n31" transform="translate(869 85)"><circle r="8.5"/><text x="25" y="12">31</text></g>
<g id="p10-n32" transform="translate(405 173)"><circle r="8.5"/><text x="25" y="12">32</text></g>
<g id="p10-n33" transform="translate(1332 545)"><circle r="8.5"/><text x="25" y="12">33</text></g>
<g id="p10-n34" transform="translate(293 506)"><circle r="8.5"/><text x="25" y="12">34</text></g>
</g>
</g>

<g id="panel-1.1" transform="translate(5004 2100)">
<g class="ed" id="p11-edges">
<path d="M185 46L271 111"/><path d="M271 111L367 183"/><path d="M367 183L453 248"/><path d="M655 63L655 167"/><path d="M655 257L655 361"/><path d="M764 257L764 361"/><path d="M873 257L873 361"/><path d="M981 257L981 361"/>
<path d="M185 339L258 379"/><path d="M258 379L349 427"/><path d="M349 427L455 479"/><path d="M455 479L491 415"/><path d="M455 479L547 473"/><path d="M455 479L478 576"/><path d="M478 576L441 641"/><path d="M478 576L545 627"/>
<path d="M655 451L907 502"/><path d="M907 502L723 641"/><path d="M655 451L723 641"/><path d="M1016 538L1016 641"/>
</g>
<g class="nd">
<g id="p11-n1" transform="translate(1016 641)"><circle r="8.5"/><text x="25" y="12">1</text></g>
<g id="p11-n2" transform="translate(441 641)"><circle r="8.5"/><text x="25" y="12">2</text></g>
<g id="p11-n3" transform="translate(453 248)"><circle r="8.5"/><text x="25" y="12">3</text></g>
<g id="p11-n4" transform="translate(764 167)"><circle r="8.5"/><text x="25" y="12">4</text></g>
<g id="p11-n5" transform="translate(185 339)"><circle r="8.5"/><text x="25" y="12">5</text></g>
<g id="p11-n6" transform="translate(258 379)"><circle r="8.5"/><text x="25" y="12">6</text></g>
<g id="p11-n7" transform="translate(655 361)"><circle r="8.5"/><text x="25" y="12">7</text></g>
<g id="p11-n8" transform="translate(873 167)"><circle r="8.5"/><text x="25" y="12">8</text></g>
<g id="p11-n9" transform="translate(981 167)"><circle r="8.5"/><text x="25" y="12">9</text></g>
<g id="p11-n10" transform="translate(764 361)"><circle r="8.5"/><text x="25" y="12">10</text></g>
<g id="p11-n11" transform="translate(873 361)"><circle r="8.5"/><text x="25" y="12">11</text></g>
<g id="p11-n12" transform="translate(655 451)"><circle r="8.5"/><text x="25" y="12">12</text></g>
<g id="p11-n13" transform="translate(981 361)"><circle r="8.5"/><text x="25" y="12">13</text></g>
<g id="p11-n14" transform="translate(545 627)"><circle r="8.5"/><text x="25" y="12">14</text></g>
<g id="p11-n15" transform="translate(1016 538)"><circle r="8.5"/><text x="25" y="12">15</text></g>
<g id="p11-n16" transform="translate(1126 641)"><circle r="8.5"/><text x="25" y="12">16</text></g>
<g id="p11-n17" transform="translate(873 257)"><circle r="8.5"/><text x="25" y="12">17</text></g>
<g id="p11-n18" transform="translate(455 479)"><circle r="8.5"/><text x="25" y="12">18</text></g>
<g id="p11-n19" transform="translate(981 257)"><circle r="8.5"/><text x="25" y="12">19</text></g>
<g id="p11-n20" transform="translate(185 46)"><circle r="8.5"/><text x="25" y="12">20</text></g>
<g id="p11-n21" transform="translate(367 183)"><circle r="8.5"/><text x="25" y="12">21</text></g>
<g id="p11-n22" transform="translate(655 257)"><circle r="8.5"/><text x="25" y="12">22</text></g>
<g id="p11-n23" transform="translate(723 641)"><circle r="8.5"/><text x="25" y="12">23</text></g>
<g id="p11-n24" transform="translate(349 427)"><circle r="8.5"/><text x="25" y="12">24</text></g>
<g id="p11-n25" transform="translate(907 502)"><circle r="8.5"/><text x="25" y="12">25</text></g>
<g id="p11-n26" transform="translate(1235 641)"><circle r="8.5"/><text x="25" y="12">26</text></g>
<g id="p11-n27" transform="translate(764 257)"><circle r="8.5"/><text x="25" y="12">27</text></g>
<g id="p11-n28" transform="translate(478 576)"><circle r="8.5"/><text x="25" y="12">28</text></g>
<g id="p11-n29" transform="translate(547 473)"><circle r="8.5"/><text x="25" y="12">29</text></g>
<g id="p11-n30" transform="translate(655 167)"><circle r="8.5"/><text x="25" y="12">30</text></g>
<g id="p11-n31" transform="translate(655 63)"><circle r="8.5"/><text x="25" y="12">31</text></g>
<g id="p11-n32" transform="translate(271 111)"><circle r="8.5"/><text x="25" y="12">32</text></g>
<g id="p11-n33" transform="translate(1343 641)"><circle r="8.5"/><text x="25" y="12">33</text></g>
<g id="p11-n34" transform="translate(491 415)"><circle r="8.5"/><text x="25" y="12">34</text></g>
</g>
</g>

<g id="panel-1.2" transform="translate(417 2100)">
<g class="ed" id="p12-edges">
<path d="M185 917L306 982"/><path d="M306 982L438 1054"/><path d="M438 1054L559 1119"/><path d="M841 1128L841 1232"/><path d="M992 1128L992 1232"/><path d="M1144 1128L1144 1232"/><path d="M1295 1128L1295 1232"/>
<path d="M185 1210L287 1250"/><path d="M287 1250L414 1298"/><path d="M414 1298L561 1350"/><path d="M561 1350L611 1286"/><path d="M561 1350L689 1344"/><path d="M561 1350L593 1447"/><path d="M593 1447L541 1512"/><path d="M593 1447L686 1498"/>
<path d="M841 1322L1192 1373"/><path d="M1192 1373L935 1512"/><path d="M841 1322L935 1512"/><path d="M1343 1409L1343 1512"/>
</g>
<g class="nd">
<g id="p12-n1" transform="translate(841 1038)"><circle r="8.5"/><text x="25" y="12">1</text></g>
<g id="p12-n2" transform="translate(541 1512)"><circle r="8.5"/><text x="25" y="12">2</text></g>
<g id="p12-n3" transform="translate(559 1119)"><circle r="8.5"/><text x="25" y="12">3</text></g>
<g id="p12-n4" transform="translate(992 1038)"><circle r="8.5"/><text x="25" y="12">4</text></g>
<g id="p12-n5" transform="translate(185 1210)"><circle r="8.5"/><text x="25" y="12">5</text></g>
<g id="p12-n6" transform="translate(287 1250)"><circle r="8.5"/><text x="25" y="12">6</text></g>
<g id="p12-n7" transform="translate(1343 1512)"><circle r="8.5"/><text x="25" y="12">7</text></g>
<g id="p12-n8" transform="translate(1144 1038)"><circle r="8.5"/><text x="25" y="12">8</text></g>
<g id="p12-n9" transform="translate(1295 1038)"><circle r="8.5"/><text x="25" y="12">9</text></g>
<g id="p12-n10" transform="translate(841 1232)"><circle r="8.5"/><text x="25" y="12">10</text></g>
<g id="p12-n11" transform="translate(992 1232)"><circle r="8.5"/><text x="25" y="12">11</text></g>
<g id="p12-n12" transform="translate(841 1322)"><circle r="8.5"/><text x="25" y="12">12</text></g>
<g id="p12-n13" transform="translate(1144 1232)"><circle r="8.5"/><text x="25" y="12">13</text></g>
<g id="p12-n14" transform="translate(686 1498)"><circle r="8.5"/><text x="25" y="12">14</text></g>
<g id="p12-n15" transform="translate(841 947)"><circle r="8.5"/><text x="25" y="12">15</text></g>
<g id="p12-n16" transform="translate(992 947)"><circle r="8.5"/><text x="25" y="12">16</text></g>
<g id="p12-n17" transform="translate(992 1128)"><circle r="8.5"/><text x="25" y="12">17</text></g>
<g id="p12-n18" transform="translate(561 1350)"><circle r="8.5"/><text x="25" y="12">18</text></g>
<g id="p12-n19" transform="translate(1144 1128)"><circle r="8.5"/><text x="25" y="12">19</text></g>
<g id="p12-n20" transform="translate(185 917)"><circle r="8.5"/><text x="25" y="12">20</text></g>
<g id="p12-n21" transform="translate(438 1054)"><circle r="8.5"/><text x="25" y="12">21</text></g>
<g id="p12-n22" transform="translate(1343 1409)"><circle r="8.5"/><text x="25" y="12">22</text></g>
<g id="p12-n23" transform="translate(935 1512)"><circle r="8.5"/><text x="25" y="12">23</text></g>
<g id="p12-n24" transform="translate(414 1298)"><circle r="8.5"/><text x="25" y="12">24</text></g>
<g id="p12-n25" transform="translate(1192 1373)"><circle r="8.5"/><text x="25" y="12">25</text></g>
<g id="p12-n26" transform="translate(1144 947)"><circle r="8.5"/><text x="25" y="12">26</text></g>
<g id="p12-n27" transform="translate(841 1128)"><circle r="8.5"/><text x="25" y="12">27</text></g>
<g id="p12-n28" transform="translate(593 1447)"><circle r="8.5"/><text x="25" y="12">28</text></g>
<g id="p12-n29" transform="translate(689 1344)"><circle r="8.5"/><text x="25" y="12">29</text></g>
<g id="p12-n30" transform="translate(1295 1232)"><circle r="8.5"/><text x="25" y="12">30</text></g>
<g id="p12-n31" transform="translate(1295 1128)"><circle r="8.5"/><text x="25" y="12">31</text></g>
<g id="p12-n32" transform="translate(306 982)"><circle r="8.5"/><text x="25" y="12">32</text></g>
<g id="p12-n33" transform="translate(1295 947)"><circle r="8.5"/><text x="25" y="12">33</text></g>
<g id="p12-n34" transform="translate(611 1286)"><circle r="8.5"/><text x="25" y="12">34</text></g>
</g>
</g>

<g id="panel-1.3" transform="translate(1946 2100)">
<g class="ed" id="p13-edges">
<path d="M185 953L272 1020"/><path d="M272 1020L368 1093"/><path d="M368 1093L456 1160"/><path d="M615 917L615 1022"/><path d="M714 917L714 1022"/><path d="M814 917L814 1022"/>
<path d="M830 1103L722 1185"/><path d="M722 1185L615 1267"/><path d="M929 1162L929 1267"/><path d="M516 1241L449 1298"/><path d="M449 1298L370 1364"/><path d="M370 1364L287 1434"/><path d="M287 1434L185 1439"/><path d="M287 1434L291 1512"/>
<path d="M830 1348L722 1430"/><path d="M722 1430L615 1512"/><path d="M929 1407L929 1512"/>
</g>
<g class="nd">
<g id="p13-n1" transform="translate(913 1022)"><circle r="8.5"/><text x="25" y="12">1</text></g>
<g id="p13-n2" transform="translate(615 1267)"><circle r="8.5"/><text x="25" y="12">2</text></g>
<g id="p13-n3" transform="translate(185 953)"><circle r="8.5"/><text x="25" y="12">3</text></g>
<g id="p13-n4" transform="translate(1045 1512)"><circle r="8.5"/><text x="25" y="12">4</text></g>
<g id="p13-n5" transform="translate(516 1241)"><circle r="8.5"/><text x="25" y="12">5</text></g>
<g id="p13-n6" transform="translate(449 1298)"><circle r="8.5"/><text x="25" y="12">6</text></g>
<g id="p13-n7" transform="translate(929 1512)"><circle r="8.5"/><text x="25" y="12">7</text></g>
<g id="p13-n8" transform="translate(1145 1512)"><circle r="8.5"/><text x="25" y="12">8</text></g>
<g id="p13-n9" transform="translate(1244 1512)"><circle r="8.5"/><text x="25" y="12">9</text></g>
<g id="p13-n10" transform="translate(929 1267)"><circle r="8.5"/><text x="25" y="12">10</text></g>
<g id="p13-n11" transform="translate(615 1022)"><circle r="8.5"/><text x="25" y="12">11</text></g>
<g id="p13-n12" transform="translate(722 1430)"><circle r="8.5"/><text x="25" y="12">12</text></g>
<g id="p13-n13" transform="translate(714 1022)"><circle r="8.5"/><text x="25" y="12">13</text></g>
<g id="p13-n14" transform="translate(830 1103)"><circle r="8.5"/><text x="25" y="12">14</text></g>
<g id="p13-n15" transform="translate(1343 1512)"><circle r="8.5"/><text x="25" y="12">15</text></g>
<g id="p13-n16" transform="translate(1045 1431)"><circle r="8.5"/><text x="25" y="12">16</text></g>
<g id="p13-n17" transform="translate(615 917)"><circle r="8.5"/><text x="25" y="12">17</text></g>
<g id="p13-n18" transform="translate(287 1434)"><circle r="8.5"/><text x="25" y="12">18</text></g>
<g id="p13-n19" transform="translate(714 917)"><circle r="8.5"/><text x="25" y="12">19</text></g>
<g id="p13-n20" transform="translate(456 1160)"><circle r="8.5"/><text x="25" y="12">20</text></g>
<g id="p13-n21" transform="translate(272 1020)"><circle r="8.5"/><text x="25" y="12">21</text></g>
<g id="p13-n22" transform="translate(929 1407)"><circle r="8.5"/><text x="25" y="12">22</text></g>
<g id="p13-n23" transform="translate(615 1512)"><circle r="8.5"/><text x="25" y="12">23</text></g>
<g id="p13-n24" transform="translate(370 1364)"><circle r="8.5"/><text x="25" y="12">24</text></g>
<g id="p13-n25" transform="translate(830 1348)"><circle r="8.5"/><text x="25" y="12">25</text></g>
<g id="p13-n26" transform="translate(1145 1431)"><circle r="8.5"/><text x="25" y="12">26</text></g>
<g id="p13-n27" transform="translate(929 1162)"><circle r="8.5"/><text x="25" y="12">27</text></g>
<g id="p13-n28" transform="translate(722 1185)"><circle r="8.5"/><text x="25" y="12">28</text></g>
<g id="p13-n29" transform="translate(185 1439)"><circle r="8.5"/><text x="25" y="12">29</text></g>
<g id="p13-n30" transform="translate(814 1022)"><circle r="8.5"/><text x="25" y="12">30</text></g>
<g id="p13-n31" transform="translate(814 917)"><circle r="8.5"/><text x="25" y="12">31</text></g>
<g id="p13-n32" transform="translate(368 1093)"><circle r="8.5"/><text x="25" y="12">32</text></g>
<g id="p13-n33" transform="translate(1244 1431)"><circle r="8.5"/><text x="25" y="12">33</text></g>
<g id="p13-n34" transform="translate(291 1512)"><circle r="8.5"/><text x="25" y="12">34</text></g>
</g>
</g>

<g id="panel-1.4" transform="translate(3475 2100)">
<g class="ed" id="p14-edges">
<path d="M185 917L278 993"/><path d="M278 993L379 1077"/><path d="M379 1077L471 1154"/><path d="M842 1054L728 1148"/><path d="M728 1148L615 1242"/><path d="M941 1121L941 1242"/>
<path d="M516 1236L439 1301"/><path d="M439 1301L350 1374"/><path d="M350 1374L262 1448"/><path d="M262 1448L185 1512"/><path d="M842 1325L728 1418"/><path d="M728 1418L615 1512"/>
<path d="M941 1391L941 1512"/><path d="M1045 1391L1045 1512"/><path d="M1145 1391L1145 1512"/><path d="M1244 1391L1244 1512"/>
</g>
<g class="nd">
<g id="p14-n1" transform="translate(1343 1512)"><circle r="8.5"/><text x="25" y="12">1</text></g>
<g id="p14-n2" transform="translate(615 1242)"><circle r="8.5"/><text x="25" y="12">2</text></g>
<g id="p14-n3" transform="translate(471 1154)"><circle r="8.5"/><text x="25" y="12">3</text></g>
<g id="p14-n4" transform="translate(1045 1309)"><circle r="8.5"/><text x="25" y="12">4</text></g>
<g id="p14-n5" transform="translate(185 1512)"><circle r="8.5"/><text x="25" y="12">5</text></g>
<g id="p14-n6" transform="translate(262 1448)"><circle r="8.5"/><text x="25" y="12">6</text></g>
<g id="p14-n7" transform="translate(941 1512)"><circle r="8.5"/><text x="25" y="12">7</text></g>
<g id="p14-n8" transform="translate(1145 1309)"><circle r="8.5"/><text x="25" y="12">8</text></g>
<g id="p14-n9" transform="translate(1244 1309)"><circle r="8.5"/><text x="25" y="12">9</text></g>
<g id="p14-n10" transform="translate(941 1242)"><circle r="8.5"/><text x="25" y="12">10</text></g>
<g id="p14-n11" transform="translate(1045 1512)"><circle r="8.5"/><text x="25" y="12">11</text></g>
<g id="p14-n12" transform="translate(728 1418)"><circle r="8.5"/><text x="25" y="12">12</text></g>
<g id="p14-n13" transform="translate(1145 1512)"><circle r="8.5"/><text x="25" y="12">13</text></g>
<g id="p14-n14" transform="translate(842 1054)"><circle r="8.5"/><text x="25" y="12">14</text></g>
<g id="p14-n15" transform="translate(1343 1309)"><circle r="8.5"/><text x="25" y="12">15</text></g>
<g id="p14-n16" transform="translate(1045 1226)"><circle r="8.5"/><text x="25" y="12">16</text></g>
<g id="p14-n17" transform="translate(1045 1391)"><circle r="8.5"/><text x="25" y="12">17</text></g>
<g id="p14-n18" transform="translate(439 1301)"><circle r="8.5"/><text x="25" y="12">18</text></g>
<g id="p14-n19" transform="translate(1145 1391)"><circle r="8.5"/><text x="25" y="12">19</text></g>
<g id="p14-n20" transform="translate(185 917)"><circle r="8.5"/><text x="25" y="12">20</text></g>
<g id="p14-n21" transform="translate(379 1077)"><circle r="8.5"/><text x="25" y="12">21</text></g>
<g id="p14-n22" transform="translate(941 1391)"><circle r="8.5"/><text x="25" y="12">22</text></g>
<g id="p14-n23" transform="translate(615 1512)"><circle r="8.5"/><text x="25" y="12">23</text></g>
<g id="p14-n24" transform="translate(350 1374)"><circle r="8.5"/><text x="25" y="12">24</text></g>
<g id="p14-n25" transform="translate(842 1325)"><circle r="8.5"/><text x="25" y="12">25</text></g>
<g id="p14-n26" transform="translate(1145 1226)"><circle r="8.5"/><text x="25" y="12">26</text></g>
<g id="p14-n27" transform="translate(941 1121)"><circle r="8.5"/><text x="25" y="12">27</text></g>
<g id="p14-n28" transform="translate(728 1148)"><circle r="8.5"/><text x="25" y="12">28</text></g>
<g id="p14-n29" transform="translate(1244 1226)"><circle r="8.5"/><text x="25" y="12">29</text></g>
<g id="p14-n30" transform="translate(1244 1512)"><circle r="8.5"/><text x="25" y="12">30</text></g>
<g id="p14-n31" transform="translate(1244 1391)"><circle r="8.5"/><text x="25" y="12">31</text></g>
<g id="p14-n32" transform="translate(278 993)"><circle r="8.5"/><text x="25" y="12">32</text></g>
<g id="p14-n33" transform="translate(1343 1226)"><circle r="8.5"/><text x="25" y="12">33</text></g>
<g id="p14-n34" transform="translate(516 1236)"><circle r="8.5"/><text x="25" y="12">34</text></g>
</g>
</g>

<g id="panel-1.5" transform="translate(5004 2100)">
<g class="ed" id="p15-edges">
<path d="M615 917L615 1030"/><path d="M714 917L714 1030"/><path d="M814 917L814 1030"/><path d="M913 917L913 1030"/><path d="M447 1050L316 1137"/><path d="M316 1137L185 1225"/>
<path d="M877 1096L746 1184"/><path d="M746 1184L615 1271"/><path d="M185 1291L291 1362"/><path d="M291 1362L409 1441"/><path d="M409 1441L516 1512"/><path d="M615 1512L746 1425"/><path d="M746 1425L877 1337"/>
<path d="M1045 1399L1045 1512"/><path d="M1145 1399L1145 1512"/>
</g>
<g class="nd">
<g id="p15-n1" transform="translate(1244 1512)"><circle r="8.5"/><text x="25" y="12">1</text></g>
<g id="p15-n2" transform="translate(615 1512)"><circle r="8.5"/><text x="25" y="12">2</text></g>
<g id="p15-n3" transform="translate(185 1291)"><circle r="8.5"/><text x="25" y="12">3</text></g>
<g id="p15-n4" transform="translate(1343 1512)"><circle r="8.5"/><text x="25" y="12">4</text></g>
<g id="p15-n5" transform="translate(185 1225)"><circle r="8.5"/><text x="25" y="12">5</text></g>
<g id="p15-n6" transform="translate(316 1137)"><circle r="8.5"/><text x="25" y="12">6</text></g>
<g id="p15-n7" transform="translate(615 1030)"><circle r="8.5"/><text x="25" y="12">7</text></g>
<g id="p15-n8" transform="translate(1045 1333)"><circle r="8.5"/><text x="25" y="12">8</text></g>
<g id="p15-n9" transform="translate(1145 1333)"><circle r="8.5"/><text x="25" y="12">9</text></g>
<g id="p15-n10" transform="translate(714 1030)"><circle r="8.5"/><text x="25" y="12">10</text></g>
<g id="p15-n11" transform="translate(814 1030)"><circle r="8.5"/><text x="25" y="12">11</text></g>
<g id="p15-n12" transform="translate(746 1184)"><circle r="8.5"/><text x="25" y="12">12</text></g>
<g id="p15-n13" transform="translate(913 1030)"><circle r="8.5"/><text x="25" y="12">13</text></g>
<g id="p15-n14" transform="translate(877 1337)"><circle r="8.5"/><text x="25" y="12">14</text></g>
<g id="p15-n15" transform="translate(1244 1333)"><circle r="8.5"/><text x="25" y="12">15</text></g>
<g id="p15-n16" transform="translate(1343 1333)"><circle r="8.5"/><text x="25" y="12">16</text></g>
<g id="p15-n17" transform="translate(814 917)"><circle r="8.5"/><text x="25" y="12">17</text></g>
<g id="p15-n18" transform="translate(1045 1512)"><circle r="8.5"/><text x="25" y="12">18</text></g>
<g id="p15-n19" transform="translate(913 917)"><circle r="8.5"/><text x="25" y="12">19</text></g>
<g id="p15-n20" transform="translate(516 1512)"><circle r="8.5"/><text x="25" y="12">20</text></g>
<g id="p15-n21" transform="translate(291 1362)"><circle r="8.5"/><text x="25" y="12">21</text></g>
<g id="p15-n22" transform="translate(615 917)"><circle r="8.5"/><text x="25" y="12">22</text></g>
<g id="p15-n23" transform="translate(615 1271)"><circle r="8.5"/><text x="25" y="12">23</text></g>
<g id="p15-n24" transform="translate(447 1050)"><circle r="8.5"/><text x="25" y="12">24</text></g>
<g id="p15-n25" transform="translate(877 1096)"><circle r="8.5"/><text x="25" y="12">25</text></g>
<g id="p15-n26" transform="translate(1045 1267)"><circle r="8.5"/><text x="25" y="12">26</text></g>
<g id="p15-n27" transform="translate(714 917)"><circle r="8.5"/><text x="25" y="12">27</text></g>
<g id="p15-n28" transform="translate(746 1425)"><circle r="8.5"/><text x="25" y="12">28</text></g>
<g id="p15-n29" transform="translate(1145 1267)"><circle r="8.5"/><text x="25" y="12">29</text></g>
<g id="p15-n30" transform="translate(1145 1512)"><circle r="8.5"/><text x="25" y="12">30</text></g>
<g id="p15-n31" transform="translate(1145 1399)"><circle r="8.5"/><text x="25" y="12">31</text></g>
<g id="p15-n32" transform="translate(409 1441)"><circle r="8.5"/><text x="25" y="12">32</text></g>
<g id="p15-n33" transform="translate(1244 1267)"><circle r="8.5"/><text x="25" y="12">33</text></g>
<g id="p15-n34" transform="translate(1045 1399)"><circle r="8.5"/><text x="25" y="12">34</text></g>
</g>
</g>
</svg>
